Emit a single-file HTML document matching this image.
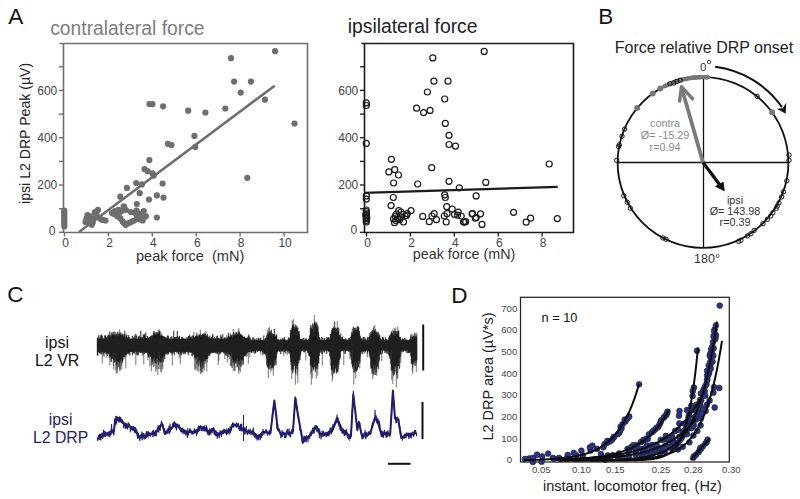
<!DOCTYPE html>
<html><head><meta charset="utf-8"><style>
html,body{margin:0;padding:0;background:#fff;width:800px;height:499px;overflow:hidden}
svg{display:block;font-family:"Liberation Sans", sans-serif}
</style></head><body>
<svg width="800" height="499" viewBox="0 0 800 499">
<rect width="800" height="499" fill="#fff"/>
<text x="8.2" y="23.6" font-size="22.5" fill="#111" text-anchor="start" >A</text>
<text x="50.2" y="35" font-size="19.3" fill="#7d7d7d" text-anchor="start" >contralateral force</text>
<path d="M59.5 43.5 H307.5 V232.5 H63.5 V43.5" fill="none" stroke="#6e6e6e" stroke-width="1.6"/>
<line x1="59" x2="63.5" y1="232.3" y2="232.3" stroke="#6e6e6e" stroke-width="1.4"/>
<line x1="59" x2="63.5" y1="208.7" y2="208.7" stroke="#6e6e6e" stroke-width="1.4"/>
<line x1="59" x2="63.5" y1="185.0" y2="185.0" stroke="#6e6e6e" stroke-width="1.4"/>
<line x1="59" x2="63.5" y1="161.4" y2="161.4" stroke="#6e6e6e" stroke-width="1.4"/>
<line x1="59" x2="63.5" y1="137.7" y2="137.7" stroke="#6e6e6e" stroke-width="1.4"/>
<line x1="59" x2="63.5" y1="114.1" y2="114.1" stroke="#6e6e6e" stroke-width="1.4"/>
<line x1="59" x2="63.5" y1="90.4" y2="90.4" stroke="#6e6e6e" stroke-width="1.4"/>
<line x1="59" x2="63.5" y1="66.8" y2="66.8" stroke="#6e6e6e" stroke-width="1.4"/>
<text x="55.4" y="234.5" font-size="12" fill="#444" text-anchor="end" >0</text>
<text x="57.3" y="189.3" font-size="12" fill="#444" text-anchor="end" >200</text>
<text x="57.3" y="142.00000000000003" font-size="12" fill="#444" text-anchor="end" >400</text>
<text x="57.3" y="94.7" font-size="12" fill="#444" text-anchor="end" >600</text>
<line x1="64.5" x2="64.5" y1="232.5" y2="236.5" stroke="#6e6e6e" stroke-width="1.4"/>
<text x="65.6" y="246.5" font-size="12" fill="#444" text-anchor="middle" >0</text>
<line x1="108.4" x2="108.4" y1="232.5" y2="236.5" stroke="#6e6e6e" stroke-width="1.4"/>
<text x="109.5" y="246.5" font-size="12" fill="#444" text-anchor="middle" >2</text>
<line x1="152.3" x2="152.3" y1="232.5" y2="236.5" stroke="#6e6e6e" stroke-width="1.4"/>
<text x="153.4" y="246.5" font-size="12" fill="#444" text-anchor="middle" >4</text>
<line x1="196.2" x2="196.2" y1="232.5" y2="236.5" stroke="#6e6e6e" stroke-width="1.4"/>
<text x="197.29999999999998" y="246.5" font-size="12" fill="#444" text-anchor="middle" >6</text>
<line x1="240.1" x2="240.1" y1="232.5" y2="236.5" stroke="#6e6e6e" stroke-width="1.4"/>
<text x="241.2" y="246.5" font-size="12" fill="#444" text-anchor="middle" >8</text>
<line x1="284.0" x2="284.0" y1="232.5" y2="236.5" stroke="#6e6e6e" stroke-width="1.4"/>
<text x="285.1" y="246.5" font-size="12" fill="#444" text-anchor="middle" >10</text>
<text x="136" y="260.5" font-size="14.55" fill="#333" text-anchor="start" >peak force&#160;&#160;(mN)</text>
<text transform="translate(30.4,133.4) rotate(-90)" font-size="14.1" fill="#222" text-anchor="middle">ipsi L2 DRP Peak (µV)</text>
<circle cx="275.1" cy="51.2" r="3.1" fill="#6e6e6e"/>
<circle cx="231" cy="58.2" r="3.1" fill="#6e6e6e"/>
<circle cx="234.1" cy="81.6" r="3.1" fill="#6e6e6e"/>
<circle cx="250.9" cy="81.6" r="3.1" fill="#6e6e6e"/>
<circle cx="240.7" cy="92.6" r="3.1" fill="#6e6e6e"/>
<circle cx="265" cy="99.7" r="3.1" fill="#6e6e6e"/>
<circle cx="294.5" cy="123.5" r="3.1" fill="#6e6e6e"/>
<circle cx="225.3" cy="108.5" r="3.1" fill="#6e6e6e"/>
<circle cx="205.4" cy="112.5" r="3.1" fill="#6e6e6e"/>
<circle cx="188.2" cy="110.7" r="3.1" fill="#6e6e6e"/>
<circle cx="149.4" cy="104.1" r="3.1" fill="#6e6e6e"/>
<circle cx="152.5" cy="104.1" r="3.1" fill="#6e6e6e"/>
<circle cx="163.1" cy="106.3" r="3.1" fill="#6e6e6e"/>
<circle cx="194.4" cy="135.9" r="3.1" fill="#6e6e6e"/>
<circle cx="195.3" cy="146.9" r="3.1" fill="#6e6e6e"/>
<circle cx="167.9" cy="143.8" r="3.1" fill="#6e6e6e"/>
<circle cx="171.5" cy="145.1" r="3.1" fill="#6e6e6e"/>
<circle cx="247.3" cy="177.8" r="3.1" fill="#6e6e6e"/>
<circle cx="149.4" cy="160.1" r="3.1" fill="#6e6e6e"/>
<circle cx="144.5" cy="169" r="3.1" fill="#6e6e6e"/>
<circle cx="147.6" cy="171.2" r="3.1" fill="#6e6e6e"/>
<circle cx="152.5" cy="173.4" r="3.1" fill="#6e6e6e"/>
<circle cx="153.8" cy="175.6" r="3.1" fill="#6e6e6e"/>
<circle cx="162.6" cy="183.5" r="3.1" fill="#6e6e6e"/>
<circle cx="136.2" cy="183.1" r="3.1" fill="#6e6e6e"/>
<circle cx="141.9" cy="184.4" r="3.1" fill="#6e6e6e"/>
<circle cx="126.9" cy="187.9" r="3.1" fill="#6e6e6e"/>
<circle cx="120.3" cy="196.7" r="3.1" fill="#6e6e6e"/>
<circle cx="139.7" cy="193.2" r="3.1" fill="#6e6e6e"/>
<circle cx="149" cy="199.5" r="3.1" fill="#6e6e6e"/>
<circle cx="156.9" cy="195.4" r="3.1" fill="#6e6e6e"/>
<circle cx="163.5" cy="197.6" r="3.1" fill="#6e6e6e"/>
<circle cx="126" cy="210" r="3.1" fill="#6e6e6e"/>
<circle cx="156.9" cy="217.5" r="3.1" fill="#6e6e6e"/>
<circle cx="86.4" cy="218.4" r="3.1" fill="#6e6e6e"/>
<circle cx="90.6" cy="216.3" r="3.1" fill="#6e6e6e"/>
<circle cx="92.8" cy="222.6" r="3.1" fill="#6e6e6e"/>
<circle cx="94.9" cy="212" r="3.1" fill="#6e6e6e"/>
<circle cx="98" cy="209.9" r="3.1" fill="#6e6e6e"/>
<circle cx="97" cy="216.3" r="3.1" fill="#6e6e6e"/>
<circle cx="101.3" cy="219.4" r="3.1" fill="#6e6e6e"/>
<circle cx="105.5" cy="220.5" r="3.1" fill="#6e6e6e"/>
<circle cx="88.5" cy="221.6" r="3.1" fill="#6e6e6e"/>
<circle cx="91.7" cy="224.8" r="3.1" fill="#6e6e6e"/>
<circle cx="87.5" cy="215" r="3.1" fill="#6e6e6e"/>
<circle cx="93" cy="219" r="3.1" fill="#6e6e6e"/>
<circle cx="96" cy="213" r="3.1" fill="#6e6e6e"/>
<circle cx="99.5" cy="218" r="3.1" fill="#6e6e6e"/>
<circle cx="103" cy="220" r="3.1" fill="#6e6e6e"/>
<circle cx="85.5" cy="222" r="3.1" fill="#6e6e6e"/>
<circle cx="90" cy="219.5" r="3.1" fill="#6e6e6e"/>
<circle cx="111.9" cy="213" r="3.1" fill="#6e6e6e"/>
<circle cx="115" cy="211" r="3.1" fill="#6e6e6e"/>
<circle cx="118.3" cy="209.9" r="3.1" fill="#6e6e6e"/>
<circle cx="121.4" cy="211" r="3.1" fill="#6e6e6e"/>
<circle cx="117.2" cy="216.3" r="3.1" fill="#6e6e6e"/>
<circle cx="120.4" cy="218.4" r="3.1" fill="#6e6e6e"/>
<circle cx="122.5" cy="221.6" r="3.1" fill="#6e6e6e"/>
<circle cx="125.7" cy="224.8" r="3.1" fill="#6e6e6e"/>
<circle cx="130" cy="222.6" r="3.1" fill="#6e6e6e"/>
<circle cx="134.2" cy="220.5" r="3.1" fill="#6e6e6e"/>
<circle cx="131" cy="212" r="3.1" fill="#6e6e6e"/>
<circle cx="135.3" cy="213" r="3.1" fill="#6e6e6e"/>
<circle cx="139.5" cy="214" r="3.1" fill="#6e6e6e"/>
<circle cx="143.8" cy="211" r="3.1" fill="#6e6e6e"/>
<circle cx="145.9" cy="216.3" r="3.1" fill="#6e6e6e"/>
<circle cx="139.5" cy="219.4" r="3.1" fill="#6e6e6e"/>
<circle cx="142.7" cy="220.5" r="3.1" fill="#6e6e6e"/>
<circle cx="123.6" cy="206.7" r="3.1" fill="#6e6e6e"/>
<circle cx="114" cy="214" r="3.1" fill="#6e6e6e"/>
<circle cx="119" cy="213.5" r="3.1" fill="#6e6e6e"/>
<circle cx="127.5" cy="223.5" r="3.1" fill="#6e6e6e"/>
<circle cx="132" cy="221.5" r="3.1" fill="#6e6e6e"/>
<circle cx="137" cy="217" r="3.1" fill="#6e6e6e"/>
<circle cx="141" cy="216.5" r="3.1" fill="#6e6e6e"/>
<circle cx="124" cy="223" r="3.1" fill="#6e6e6e"/>
<circle cx="136.5" cy="210.5" r="3.1" fill="#6e6e6e"/>
<circle cx="136.8" cy="204.1" r="3.1" fill="#6e6e6e"/>
<circle cx="124.1" cy="206.7" r="3.1" fill="#6e6e6e"/>
<circle cx="64.3" cy="210.5" r="3.1" fill="#6e6e6e"/>
<circle cx="64.3" cy="212.5" r="3.1" fill="#6e6e6e"/>
<circle cx="64.3" cy="214.5" r="3.1" fill="#6e6e6e"/>
<circle cx="64.3" cy="216.5" r="3.1" fill="#6e6e6e"/>
<circle cx="64.3" cy="218.5" r="3.1" fill="#6e6e6e"/>
<circle cx="64.3" cy="220.5" r="3.1" fill="#6e6e6e"/>
<circle cx="64.3" cy="222.5" r="3.1" fill="#6e6e6e"/>
<circle cx="64.3" cy="224.5" r="3.1" fill="#6e6e6e"/>
<circle cx="64.3" cy="226.5" r="3.1" fill="#6e6e6e"/>
<line x1="79" y1="232" x2="274.7" y2="85.7" stroke="#6e6e6e" stroke-width="2.6"/>
<text x="347.8" y="33.2" font-size="19.3" fill="#222" text-anchor="start" >ipsilateral force</text>
<path d="M361.5 43.5 H573.5 V232.5 H364.5 V43.5" fill="none" stroke="#1a1a1a" stroke-width="1.6"/>
<line x1="360" x2="364.5" y1="232.3" y2="232.3" stroke="#1a1a1a" stroke-width="1.3"/>
<line x1="360" x2="364.5" y1="208.7" y2="208.7" stroke="#1a1a1a" stroke-width="1.3"/>
<line x1="360" x2="364.5" y1="185.0" y2="185.0" stroke="#1a1a1a" stroke-width="1.3"/>
<line x1="360" x2="364.5" y1="161.4" y2="161.4" stroke="#1a1a1a" stroke-width="1.3"/>
<line x1="360" x2="364.5" y1="137.7" y2="137.7" stroke="#1a1a1a" stroke-width="1.3"/>
<line x1="360" x2="364.5" y1="114.1" y2="114.1" stroke="#1a1a1a" stroke-width="1.3"/>
<line x1="360" x2="364.5" y1="90.4" y2="90.4" stroke="#1a1a1a" stroke-width="1.3"/>
<line x1="360" x2="364.5" y1="66.8" y2="66.8" stroke="#1a1a1a" stroke-width="1.3"/>
<text x="357.1" y="233.8" font-size="12" fill="#444" text-anchor="end" >0</text>
<text x="358.3" y="189.3" font-size="12" fill="#444" text-anchor="end" >200</text>
<text x="358.3" y="142.00000000000003" font-size="12" fill="#444" text-anchor="end" >400</text>
<text x="358.3" y="94.7" font-size="12" fill="#444" text-anchor="end" >600</text>
<line x1="366.5" x2="366.5" y1="232.5" y2="236.5" stroke="#1a1a1a" stroke-width="1.3"/>
<text x="367.6" y="246.5" font-size="12" fill="#444" text-anchor="middle" >0</text>
<line x1="410.4" x2="410.4" y1="232.5" y2="236.5" stroke="#1a1a1a" stroke-width="1.3"/>
<text x="411.5" y="246.5" font-size="12" fill="#444" text-anchor="middle" >2</text>
<line x1="454.3" x2="454.3" y1="232.5" y2="236.5" stroke="#1a1a1a" stroke-width="1.3"/>
<text x="455.40000000000003" y="246.5" font-size="12" fill="#444" text-anchor="middle" >4</text>
<line x1="498.2" x2="498.2" y1="232.5" y2="236.5" stroke="#1a1a1a" stroke-width="1.3"/>
<text x="499.3" y="246.5" font-size="12" fill="#444" text-anchor="middle" >6</text>
<line x1="542.1" x2="542.1" y1="232.5" y2="236.5" stroke="#1a1a1a" stroke-width="1.3"/>
<text x="543.2" y="246.5" font-size="12" fill="#444" text-anchor="middle" >8</text>
<text x="412.8" y="259.4" font-size="14.3" fill="#333" text-anchor="start" >peak force (mN)</text>
<circle cx="432.8" cy="57.9" r="3.0" fill="none" stroke="#1a1a1a" stroke-width="1.2"/>
<circle cx="484.2" cy="51.4" r="3.0" fill="none" stroke="#1a1a1a" stroke-width="1.2"/>
<circle cx="433.9" cy="81.2" r="3.0" fill="none" stroke="#1a1a1a" stroke-width="1.2"/>
<circle cx="448" cy="81.2" r="3.0" fill="none" stroke="#1a1a1a" stroke-width="1.2"/>
<circle cx="427.4" cy="92" r="3.0" fill="none" stroke="#1a1a1a" stroke-width="1.2"/>
<circle cx="444.7" cy="99" r="3.0" fill="none" stroke="#1a1a1a" stroke-width="1.2"/>
<circle cx="416.6" cy="108.2" r="3.0" fill="none" stroke="#1a1a1a" stroke-width="1.2"/>
<circle cx="423.6" cy="112.6" r="3.0" fill="none" stroke="#1a1a1a" stroke-width="1.2"/>
<circle cx="430.1" cy="110.4" r="3.0" fill="none" stroke="#1a1a1a" stroke-width="1.2"/>
<circle cx="366.3" cy="102.8" r="3.0" fill="none" stroke="#1a1a1a" stroke-width="1.2"/>
<circle cx="366.3" cy="105.5" r="3.0" fill="none" stroke="#1a1a1a" stroke-width="1.2"/>
<circle cx="445.3" cy="123.4" r="3.0" fill="none" stroke="#1a1a1a" stroke-width="1.2"/>
<circle cx="449" cy="135.3" r="3.0" fill="none" stroke="#1a1a1a" stroke-width="1.2"/>
<circle cx="455.5" cy="146.1" r="3.0" fill="none" stroke="#1a1a1a" stroke-width="1.2"/>
<circle cx="449" cy="144.5" r="3.0" fill="none" stroke="#1a1a1a" stroke-width="1.2"/>
<circle cx="366.3" cy="143.4" r="3.0" fill="none" stroke="#1a1a1a" stroke-width="1.2"/>
<circle cx="391.4" cy="159.3" r="3.0" fill="none" stroke="#1a1a1a" stroke-width="1.2"/>
<circle cx="388.8" cy="171.9" r="3.0" fill="none" stroke="#1a1a1a" stroke-width="1.2"/>
<circle cx="394.7" cy="169.7" r="3.0" fill="none" stroke="#1a1a1a" stroke-width="1.2"/>
<circle cx="398.5" cy="175" r="3.0" fill="none" stroke="#1a1a1a" stroke-width="1.2"/>
<circle cx="393.6" cy="183" r="3.0" fill="none" stroke="#1a1a1a" stroke-width="1.2"/>
<circle cx="431.7" cy="167.7" r="3.0" fill="none" stroke="#1a1a1a" stroke-width="1.2"/>
<circle cx="417.7" cy="184" r="3.0" fill="none" stroke="#1a1a1a" stroke-width="1.2"/>
<circle cx="449" cy="181.3" r="3.0" fill="none" stroke="#1a1a1a" stroke-width="1.2"/>
<circle cx="459.3" cy="187.8" r="3.0" fill="none" stroke="#1a1a1a" stroke-width="1.2"/>
<circle cx="485.8" cy="182.4" r="3.0" fill="none" stroke="#1a1a1a" stroke-width="1.2"/>
<circle cx="549.2" cy="164" r="3.0" fill="none" stroke="#1a1a1a" stroke-width="1.2"/>
<circle cx="393.3" cy="197.5" r="3.0" fill="none" stroke="#1a1a1a" stroke-width="1.2"/>
<circle cx="391.1" cy="205.6" r="3.0" fill="none" stroke="#1a1a1a" stroke-width="1.2"/>
<circle cx="366.3" cy="195.9" r="3.0" fill="none" stroke="#1a1a1a" stroke-width="1.2"/>
<circle cx="366.3" cy="199.1" r="3.0" fill="none" stroke="#1a1a1a" stroke-width="1.2"/>
<circle cx="444.7" cy="194.8" r="3.0" fill="none" stroke="#1a1a1a" stroke-width="1.2"/>
<circle cx="445.3" cy="197.5" r="3.0" fill="none" stroke="#1a1a1a" stroke-width="1.2"/>
<circle cx="476.1" cy="195.9" r="3.0" fill="none" stroke="#1a1a1a" stroke-width="1.2"/>
<circle cx="557.3" cy="218.6" r="3.0" fill="none" stroke="#1a1a1a" stroke-width="1.2"/>
<circle cx="366.3" cy="210" r="3.0" fill="none" stroke="#1a1a1a" stroke-width="1.2"/>
<circle cx="366.3" cy="211.5" r="3.0" fill="none" stroke="#1a1a1a" stroke-width="1.2"/>
<circle cx="366.3" cy="213" r="3.0" fill="none" stroke="#1a1a1a" stroke-width="1.2"/>
<circle cx="366.3" cy="214.5" r="3.0" fill="none" stroke="#1a1a1a" stroke-width="1.2"/>
<circle cx="366.3" cy="216" r="3.0" fill="none" stroke="#1a1a1a" stroke-width="1.2"/>
<circle cx="366.3" cy="217.5" r="3.0" fill="none" stroke="#1a1a1a" stroke-width="1.2"/>
<circle cx="366.3" cy="219" r="3.0" fill="none" stroke="#1a1a1a" stroke-width="1.2"/>
<circle cx="366.3" cy="220.5" r="3.0" fill="none" stroke="#1a1a1a" stroke-width="1.2"/>
<circle cx="366.3" cy="222" r="3.0" fill="none" stroke="#1a1a1a" stroke-width="1.2"/>
<circle cx="365.8" cy="215" r="3.0" fill="none" stroke="#1a1a1a" stroke-width="1.2"/>
<circle cx="366.8" cy="218" r="3.0" fill="none" stroke="#1a1a1a" stroke-width="1.2"/>
<circle cx="396.5" cy="214" r="3.0" fill="none" stroke="#1a1a1a" stroke-width="1.2"/>
<circle cx="398" cy="219" r="3.0" fill="none" stroke="#1a1a1a" stroke-width="1.2"/>
<circle cx="400.5" cy="217" r="3.0" fill="none" stroke="#1a1a1a" stroke-width="1.2"/>
<circle cx="396" cy="220.5" r="3.0" fill="none" stroke="#1a1a1a" stroke-width="1.2"/>
<circle cx="401" cy="212" r="3.0" fill="none" stroke="#1a1a1a" stroke-width="1.2"/>
<circle cx="393.5" cy="219" r="3.0" fill="none" stroke="#1a1a1a" stroke-width="1.2"/>
<circle cx="406.5" cy="215.5" r="3.0" fill="none" stroke="#1a1a1a" stroke-width="1.2"/>
<circle cx="398.7" cy="210.7" r="3.0" fill="none" stroke="#1a1a1a" stroke-width="1.2"/>
<circle cx="395.2" cy="216" r="3.0" fill="none" stroke="#1a1a1a" stroke-width="1.2"/>
<circle cx="397.5" cy="217.5" r="3.0" fill="none" stroke="#1a1a1a" stroke-width="1.2"/>
<circle cx="394.5" cy="222.7" r="3.0" fill="none" stroke="#1a1a1a" stroke-width="1.2"/>
<circle cx="399.7" cy="219.7" r="3.0" fill="none" stroke="#1a1a1a" stroke-width="1.2"/>
<circle cx="403.5" cy="222" r="3.0" fill="none" stroke="#1a1a1a" stroke-width="1.2"/>
<circle cx="405" cy="216" r="3.0" fill="none" stroke="#1a1a1a" stroke-width="1.2"/>
<circle cx="407.2" cy="213.7" r="3.0" fill="none" stroke="#1a1a1a" stroke-width="1.2"/>
<circle cx="411" cy="210.7" r="3.0" fill="none" stroke="#1a1a1a" stroke-width="1.2"/>
<circle cx="402" cy="214.5" r="3.0" fill="none" stroke="#1a1a1a" stroke-width="1.2"/>
<circle cx="422.7" cy="216.4" r="3.0" fill="none" stroke="#1a1a1a" stroke-width="1.2"/>
<circle cx="429.3" cy="221.7" r="3.0" fill="none" stroke="#1a1a1a" stroke-width="1.2"/>
<circle cx="432" cy="216" r="3.0" fill="none" stroke="#1a1a1a" stroke-width="1.2"/>
<circle cx="434.2" cy="213.7" r="3.0" fill="none" stroke="#1a1a1a" stroke-width="1.2"/>
<circle cx="436.5" cy="219.7" r="3.0" fill="none" stroke="#1a1a1a" stroke-width="1.2"/>
<circle cx="446.7" cy="206.7" r="3.0" fill="none" stroke="#1a1a1a" stroke-width="1.2"/>
<circle cx="444.3" cy="216" r="3.0" fill="none" stroke="#1a1a1a" stroke-width="1.2"/>
<circle cx="447" cy="213.7" r="3.0" fill="none" stroke="#1a1a1a" stroke-width="1.2"/>
<circle cx="446.2" cy="222" r="3.0" fill="none" stroke="#1a1a1a" stroke-width="1.2"/>
<circle cx="452.2" cy="209.2" r="3.0" fill="none" stroke="#1a1a1a" stroke-width="1.2"/>
<circle cx="458.2" cy="212.2" r="3.0" fill="none" stroke="#1a1a1a" stroke-width="1.2"/>
<circle cx="454.5" cy="214.5" r="3.0" fill="none" stroke="#1a1a1a" stroke-width="1.2"/>
<circle cx="457.5" cy="215.2" r="3.0" fill="none" stroke="#1a1a1a" stroke-width="1.2"/>
<circle cx="461.2" cy="216" r="3.0" fill="none" stroke="#1a1a1a" stroke-width="1.2"/>
<circle cx="463.5" cy="222" r="3.0" fill="none" stroke="#1a1a1a" stroke-width="1.2"/>
<circle cx="465.7" cy="221.7" r="3.0" fill="none" stroke="#1a1a1a" stroke-width="1.2"/>
<circle cx="472.5" cy="213.7" r="3.0" fill="none" stroke="#1a1a1a" stroke-width="1.2"/>
<circle cx="476.2" cy="217.5" r="3.0" fill="none" stroke="#1a1a1a" stroke-width="1.2"/>
<circle cx="472.1" cy="213.8" r="3.0" fill="none" stroke="#1a1a1a" stroke-width="1.2"/>
<circle cx="480.5" cy="213.8" r="3.0" fill="none" stroke="#1a1a1a" stroke-width="1.2"/>
<circle cx="475.4" cy="218.2" r="3.0" fill="none" stroke="#1a1a1a" stroke-width="1.2"/>
<circle cx="464.4" cy="222.2" r="3.0" fill="none" stroke="#1a1a1a" stroke-width="1.2"/>
<circle cx="482" cy="224.4" r="3.0" fill="none" stroke="#1a1a1a" stroke-width="1.2"/>
<circle cx="526.2" cy="222.2" r="3.0" fill="none" stroke="#1a1a1a" stroke-width="1.2"/>
<circle cx="530.6" cy="218.2" r="3.0" fill="none" stroke="#1a1a1a" stroke-width="1.2"/>
<circle cx="513.6" cy="212.3" r="3.0" fill="none" stroke="#1a1a1a" stroke-width="1.2"/>
<line x1="364" y1="192.9" x2="557.7" y2="186.9" stroke="#1a1a1a" stroke-width="2.2"/>
<text x="598.2" y="23.8" font-size="22.5" fill="#111" text-anchor="start" >B</text>
<text x="704" y="52.8" font-size="16" fill="#222" text-anchor="middle" >Force relative DRP onset</text>
<circle cx="703" cy="162.5" r="85.4" fill="none" stroke="#111" stroke-width="1.8"/>
<line x1="703.5" y1="77.1" x2="703.5" y2="247.9" stroke="#111" stroke-width="1.3"/>
<line x1="617.6" y1="162.5" x2="788.4" y2="162.5" stroke="#111" stroke-width="1.4"/>
<text x="700" y="70.8" font-size="11.5" fill="#333" text-anchor="start" >0</text>
<circle cx="709.1" cy="62.1" r="1.75" fill="none" stroke="#333" stroke-width="0.9"/>
<text x="707" y="263" font-size="12.5" fill="#333" text-anchor="middle" >180°</text>
<path d="M715.1 66.8 A96.5 96.5 0 0 1 782.0 107.1" fill="none" stroke="#111" stroke-width="2"/>
<path d="M785.7 113.8 L776.7 108.8 L782.7 108.3 L786.2 102.8 Z" fill="#111"/>
<circle cx="664.2" cy="86.4" r="2.06" fill="#777"/>
<circle cx="664.9" cy="86.1" r="1.98" fill="#777"/>
<circle cx="665.6" cy="85.7" r="2.23" fill="#777"/>
<circle cx="666.2" cy="85.4" r="1.94" fill="#777"/>
<circle cx="666.9" cy="85.1" r="2.17" fill="#777"/>
<circle cx="667.6" cy="84.8" r="2.08" fill="#777"/>
<circle cx="668.3" cy="84.5" r="1.93" fill="#777"/>
<circle cx="668.9" cy="84.2" r="2.15" fill="#777"/>
<circle cx="669.6" cy="83.9" r="1.92" fill="#777"/>
<circle cx="670.3" cy="83.6" r="2.12" fill="#777"/>
<circle cx="671.0" cy="83.3" r="1.93" fill="#777"/>
<circle cx="671.7" cy="83.0" r="1.95" fill="#777"/>
<circle cx="672.4" cy="82.8" r="2.11" fill="#777"/>
<circle cx="673.1" cy="82.5" r="2.31" fill="#777"/>
<circle cx="673.8" cy="82.3" r="1.96" fill="#777"/>
<circle cx="674.5" cy="82.0" r="2.01" fill="#777"/>
<circle cx="675.2" cy="81.8" r="2.21" fill="#777"/>
<circle cx="675.9" cy="81.5" r="2.37" fill="#777"/>
<circle cx="676.6" cy="81.3" r="2.19" fill="#777"/>
<circle cx="677.3" cy="81.1" r="2.10" fill="#777"/>
<circle cx="678.0" cy="80.8" r="2.39" fill="#777"/>
<circle cx="678.7" cy="80.6" r="1.92" fill="#777"/>
<circle cx="679.5" cy="80.4" r="2.33" fill="#777"/>
<circle cx="680.2" cy="80.2" r="2.04" fill="#777"/>
<circle cx="680.9" cy="80.0" r="1.97" fill="#777"/>
<circle cx="681.6" cy="79.8" r="1.96" fill="#777"/>
<circle cx="682.3" cy="79.6" r="2.05" fill="#777"/>
<circle cx="683.1" cy="79.5" r="2.31" fill="#777"/>
<circle cx="683.8" cy="79.3" r="1.99" fill="#777"/>
<circle cx="684.5" cy="79.1" r="2.19" fill="#777"/>
<circle cx="685.2" cy="79.0" r="2.22" fill="#777"/>
<circle cx="686.0" cy="78.8" r="2.09" fill="#777"/>
<circle cx="686.7" cy="78.7" r="2.17" fill="#777"/>
<circle cx="687.4" cy="78.5" r="1.93" fill="#777"/>
<circle cx="688.2" cy="78.4" r="1.93" fill="#777"/>
<circle cx="688.9" cy="78.3" r="2.00" fill="#777"/>
<circle cx="689.6" cy="78.2" r="2.24" fill="#777"/>
<circle cx="690.4" cy="78.0" r="2.11" fill="#777"/>
<circle cx="691.1" cy="77.9" r="2.06" fill="#777"/>
<circle cx="691.9" cy="77.8" r="2.19" fill="#777"/>
<circle cx="692.6" cy="77.7" r="2.13" fill="#777"/>
<circle cx="693.3" cy="77.6" r="2.05" fill="#777"/>
<circle cx="694.1" cy="77.6" r="2.30" fill="#777"/>
<circle cx="694.8" cy="77.5" r="2.25" fill="#777"/>
<circle cx="695.6" cy="77.4" r="2.02" fill="#777"/>
<circle cx="696.3" cy="77.4" r="2.19" fill="#777"/>
<circle cx="697.0" cy="77.3" r="2.16" fill="#777"/>
<circle cx="697.8" cy="77.3" r="2.34" fill="#777"/>
<circle cx="698.5" cy="77.2" r="2.26" fill="#777"/>
<circle cx="699.3" cy="77.2" r="2.04" fill="#777"/>
<circle cx="700.0" cy="77.2" r="2.39" fill="#777"/>
<circle cx="700.8" cy="77.1" r="1.96" fill="#777"/>
<circle cx="701.5" cy="77.1" r="2.11" fill="#777"/>
<circle cx="702.3" cy="77.1" r="2.28" fill="#777"/>
<circle cx="703.0" cy="77.1" r="1.98" fill="#777"/>
<circle cx="703.7" cy="77.1" r="2.14" fill="#777"/>
<circle cx="704.5" cy="77.1" r="1.92" fill="#777"/>
<circle cx="705.2" cy="77.1" r="2.23" fill="#777"/>
<circle cx="706.0" cy="77.2" r="2.28" fill="#777"/>
<circle cx="706.7" cy="77.2" r="2.19" fill="#777"/>
<circle cx="707.5" cy="77.2" r="2.34" fill="#777"/>
<circle cx="637.2" cy="108.1" r="3" fill="#777"/>
<circle cx="652.7" cy="93.5" r="3" fill="#777"/>
<circle cx="660.3" cy="88.5" r="3" fill="#777"/>
<circle cx="772.1" cy="112.3" r="3" fill="#777"/>
<circle cx="624.6" cy="129.1" r="2.2" fill="none" stroke="#151515" stroke-width="1.0"/>
<circle cx="622" cy="136.2" r="2.2" fill="none" stroke="#151515" stroke-width="1.0"/>
<circle cx="619.3" cy="144.8" r="2.2" fill="none" stroke="#151515" stroke-width="1.0"/>
<circle cx="618.6" cy="146.6" r="2.2" fill="none" stroke="#151515" stroke-width="1.0"/>
<circle cx="616.7" cy="160.4" r="2.2" fill="none" stroke="#151515" stroke-width="1.0"/>
<circle cx="623.8" cy="195.7" r="2.2" fill="none" stroke="#151515" stroke-width="1.0"/>
<circle cx="627.2" cy="202.2" r="2.2" fill="none" stroke="#151515" stroke-width="1.0"/>
<circle cx="630.3" cy="208.2" r="2.2" fill="none" stroke="#151515" stroke-width="1.0"/>
<circle cx="662.9" cy="237.9" r="2.2" fill="none" stroke="#151515" stroke-width="1.0"/>
<circle cx="666" cy="239.2" r="2.2" fill="none" stroke="#151515" stroke-width="1.0"/>
<circle cx="757.1" cy="96.4" r="2.2" fill="none" stroke="#151515" stroke-width="1.0"/>
<circle cx="670" cy="83.75" r="2.2" fill="none" stroke="#151515" stroke-width="1.0"/>
<circle cx="673.75" cy="83" r="2.2" fill="none" stroke="#151515" stroke-width="1.0"/>
<circle cx="676.75" cy="81.5" r="2.2" fill="none" stroke="#151515" stroke-width="1.0"/>
<circle cx="680.2" cy="80.2" r="2.2" fill="none" stroke="#151515" stroke-width="1.0"/>
<circle cx="789" cy="155" r="2.2" fill="none" stroke="#151515" stroke-width="1.0"/>
<circle cx="789" cy="160.3" r="2.2" fill="none" stroke="#151515" stroke-width="1.0"/>
<circle cx="786.8" cy="180.8" r="2.2" fill="none" stroke="#151515" stroke-width="1.0"/>
<circle cx="783.5" cy="191.8" r="2.2" fill="none" stroke="#151515" stroke-width="1.0"/>
<circle cx="781.7" cy="196.9" r="2.2" fill="none" stroke="#151515" stroke-width="1.0"/>
<circle cx="779" cy="202.8" r="2.2" fill="none" stroke="#151515" stroke-width="1.0"/>
<circle cx="777.3" cy="206.1" r="2.2" fill="none" stroke="#151515" stroke-width="1.0"/>
<circle cx="776.2" cy="208.3" r="2.2" fill="none" stroke="#151515" stroke-width="1.0"/>
<circle cx="772.9" cy="212.7" r="2.2" fill="none" stroke="#151515" stroke-width="1.0"/>
<circle cx="770.7" cy="216" r="2.2" fill="none" stroke="#151515" stroke-width="1.0"/>
<circle cx="767.4" cy="219.3" r="2.2" fill="none" stroke="#151515" stroke-width="1.0"/>
<circle cx="763" cy="223.7" r="2.2" fill="none" stroke="#151515" stroke-width="1.0"/>
<circle cx="754.2" cy="230.4" r="2.2" fill="none" stroke="#151515" stroke-width="1.0"/>
<circle cx="750.9" cy="233.7" r="2.2" fill="none" stroke="#151515" stroke-width="1.0"/>
<circle cx="747.5" cy="235.9" r="2.2" fill="none" stroke="#151515" stroke-width="1.0"/>
<circle cx="740.9" cy="240.3" r="2.2" fill="none" stroke="#151515" stroke-width="1.0"/>
<circle cx="738.7" cy="241.4" r="2.2" fill="none" stroke="#151515" stroke-width="1.0"/>
<line x1="703" y1="162.5" x2="681.6" y2="87.5" stroke="#7a7a7a" stroke-width="3.8"/>
<path d="M679.6 101 L681.5 86.6 L692.6 98.8" fill="none" stroke="#7a7a7a" stroke-width="3.4" stroke-linejoin="round" stroke-linecap="round"/>
<line x1="703" y1="162.5" x2="720.5" y2="185.8" stroke="#111" stroke-width="3.4"/>
<path d="M724.2 190.6 L715.6 186.4 L719.8 184.6 L723.1 182.2 Z" fill="#111" stroke="#111" stroke-width="1"/>
<text x="665" y="127.4" font-size="10.8" fill="#8a8a8a" text-anchor="middle" >contra</text>
<text x="665" y="139" font-size="10.8" fill="#8a8a8a" text-anchor="middle" >Ø= -15.29</text>
<text x="665" y="150.8" font-size="10.8" fill="#8a8a8a" text-anchor="middle" >r=0.94</text>
<text x="735" y="204.3" font-size="10.8" fill="#333" text-anchor="middle" >ipsi</text>
<text x="735" y="215.2" font-size="10.8" fill="#333" text-anchor="middle" >Ø= 143.98</text>
<text x="735" y="226" font-size="10.8" fill="#333" text-anchor="middle" >r=0.39</text>
<text x="7.2" y="302.2" font-size="22.5" fill="#111" text-anchor="start" >C</text>
<text x="57" y="348" font-size="16" fill="#111" text-anchor="middle" >ipsi</text>
<text x="57.2" y="366" font-size="16" fill="#111" text-anchor="middle" >L2 VR</text>
<text x="60.6" y="425" font-size="15.8" fill="#26225f" text-anchor="middle" >ipsi</text>
<text x="60.6" y="443" font-size="15.8" fill="#26225f" text-anchor="middle" >L2 DRP</text>
<path d="M97.30 338.1V355.4M97.80 337.6V355.5M98.30 338.7V352.1M98.80 337.8V352.0M98.80 338.8V335.1M99.30 338.7V353.2M99.80 338.8V353.3M100.30 336.5V353.1M100.80 338.8V353.7M101.30 336.3V354.6M101.30 338.8V334.5M101.80 338.6V351.9M102.30 335.5V351.9M102.80 338.1V351.9M103.30 338.7V354.7M103.80 338.6V353.0M104.30 338.2V353.1M104.80 335.3V352.3M105.30 335.3V352.0M105.80 336.5V353.5M106.30 337.3V353.8M106.80 338.5V352.7M107.30 337.8V356.0M107.80 335.5V353.4M108.30 334.6V353.1M108.80 336.5V354.4M109.30 337.7V357.7M109.80 334.5V356.5M109.80 338.8V331.4M110.30 335.7V357.1M110.80 336.4V357.2M111.30 337.1V362.2M111.80 332.5V358.5M112.30 335.0V358.7M112.80 334.8V357.4M112.80 338.8V334.5M113.30 334.5V360.1M113.80 331.7V363.2M114.30 335.1V362.4M114.30 338.8V336.9M114.80 334.3V360.4M115.30 335.7V358.1M115.80 334.1V362.0M116.30 335.4V366.0M116.80 333.3V362.9M117.30 335.9V361.2M117.80 331.9V360.8M118.30 333.8V362.1M118.80 335.0V361.9M119.30 333.3V362.5M119.80 334.3V362.9M120.30 333.8V362.1M120.80 334.2V360.4M121.30 335.0V359.1M121.80 335.4V361.1M122.30 335.1V362.7M122.80 333.6V360.8M123.30 335.4V357.5M123.80 337.0V357.0M124.30 334.1V356.9M124.80 336.8V355.3M124.80 338.8V331.2M125.30 337.3V355.1M125.80 337.3V357.5M126.30 335.3V355.4M126.80 336.6V354.2M127.30 338.2V353.5M127.80 337.4V352.7M128.30 336.6V354.3M128.30 338.8V335.1M128.80 338.5V352.5M129.30 338.4V353.5M129.80 337.2V355.5M130.30 338.7V352.0M130.80 338.8V352.0M131.30 338.8V351.9M131.80 338.8V351.9M132.30 335.8V355.3M132.80 338.8V352.2M133.30 338.8V352.6M133.80 338.2V353.6M133.80 338.8V337.2M134.30 338.0V353.5M134.80 335.3V351.8M135.30 338.3V351.9M135.80 338.8V351.8M135.80 338.8V333.8M136.30 338.7V354.6M136.80 335.5V352.2M137.30 338.8V355.5M137.80 338.8V352.3M138.30 336.7V355.1M138.80 338.3V351.8M139.30 335.7V351.8M139.80 338.4V352.6M140.30 337.1V352.9M140.80 338.8V352.8M140.80 338.8V331.0M141.30 338.4V351.9M141.80 336.8V353.2M142.30 338.6V352.7M142.80 337.4V355.6M143.30 338.8V353.2M143.30 338.8V334.4M143.80 337.4V351.9M144.30 335.5V354.0M144.30 338.8V333.9M144.80 338.0V352.1M144.80 338.8V335.6M145.30 337.6V353.1M145.80 338.4V352.3M145.80 338.8V332.4M146.30 338.6V352.4M146.80 337.9V352.9M147.30 336.0V353.6M147.80 337.7V354.0M148.30 337.9V356.7M148.80 337.9V357.5M149.30 336.7V354.7M149.80 336.7V356.4M150.30 337.8V356.4M150.80 335.8V356.8M151.30 335.4V359.1M151.80 336.1V360.0M152.30 336.3V359.3M152.80 335.2V360.6M153.30 333.1V358.2M153.80 331.1V358.0M154.30 335.2V361.5M154.80 334.9V357.4M154.80 338.8V331.7M155.30 333.5V362.6M155.80 335.6V363.7M156.30 333.8V363.9M156.80 333.5V358.2M156.80 338.8V332.3M157.30 334.2V358.8M157.80 332.2V362.2M158.30 334.0V365.4M158.80 332.5V359.9M159.30 331.0V360.7M159.30 338.8V332.7M159.80 331.4V362.0M160.30 335.8V361.7M160.80 335.1V362.6M161.30 335.3V362.8M161.30 338.8V335.4M161.80 336.0V358.5M162.30 335.6V362.2M162.80 336.0V361.4M163.30 336.5V356.5M163.80 336.1V357.1M164.30 336.9V355.7M164.80 336.9V359.2M165.30 338.2V354.6M165.80 337.5V353.3M166.30 338.3V354.0M166.80 337.9V353.2M167.30 338.5V352.7M167.80 335.6V354.8M168.30 335.7V354.2M168.80 338.7V352.0M169.30 338.5V352.5M169.80 338.8V351.9M170.30 338.8V351.9M170.80 337.2V353.0M171.30 338.6V353.2M171.80 336.0V351.8M172.30 338.8V353.7M172.80 338.5V353.9M173.30 338.7V351.8M173.80 338.4V352.5M173.80 338.8V330.7M174.30 338.8V355.4M174.30 338.8V337.1M174.80 337.2V352.0M175.30 337.2V351.8M175.80 338.8V351.9M176.30 336.6V351.8M176.80 338.6V353.2M177.30 338.7V351.8M177.30 338.8V331.1M177.80 336.6V351.8M178.30 338.7V354.4M178.80 337.4V353.9M179.30 336.3V352.1M179.30 338.8V335.9M179.80 338.8V351.8M180.30 338.8V355.5M180.80 338.8V353.3M181.30 338.8V355.3M181.80 336.8V352.5M182.30 337.4V351.8M182.80 338.8V353.2M183.30 338.7V351.9M183.80 337.7V354.4M184.30 338.8V353.2M184.80 338.8V352.1M185.30 338.8V354.3M185.80 338.7V352.1M186.30 338.8V352.2M186.80 337.3V351.8M187.30 338.5V351.8M187.80 338.4V352.8M188.30 336.2V355.2M188.80 335.9V351.8M189.30 336.2V352.2M189.80 338.5V352.2M189.80 338.8V334.5M190.30 338.6V353.1M190.80 337.1V352.2M191.30 336.4V352.6M191.80 338.5V352.5M192.30 338.4V356.0M192.80 335.4V353.5M193.30 338.2V354.1M193.30 338.8V335.6M193.80 335.3V355.0M194.30 337.4V357.9M194.80 337.6V357.2M195.30 336.1V357.5M195.80 336.4V360.1M196.30 334.6V358.1M196.80 335.7V358.3M197.30 337.0V363.8M197.80 335.5V357.2M198.30 335.6V362.3M198.80 336.2V364.6M199.30 334.8V360.4M199.80 334.3V360.8M200.30 333.4V367.1M200.80 336.5V367.6M201.30 336.8V364.6M201.30 338.8V335.7M201.80 335.0V361.2M202.30 334.3V364.9M202.80 334.0V364.7M203.30 335.0V362.3M203.80 333.2V364.1M204.30 333.9V359.5M204.80 335.6V361.0M205.30 333.1V359.1M205.80 335.2V361.3M206.30 336.0V359.0M206.80 335.6V359.3M207.30 333.9V358.9M207.80 336.1V358.7M208.30 337.4V355.4M208.80 337.1V355.7M209.30 338.0V354.0M209.80 335.5V356.2M210.30 338.4V353.4M210.80 338.4V353.2M211.30 337.0V353.2M211.80 338.7V352.4M212.30 336.8V352.2M212.80 335.5V353.2M212.80 338.8V334.0M213.30 338.6V352.9M213.80 338.7V352.5M214.30 338.8V352.4M214.80 336.8V351.9M215.30 338.6V353.2M215.80 338.2V353.1M216.30 338.8V351.8M216.80 336.3V353.4M217.30 335.5V354.2M217.80 338.8V353.1M218.30 337.9V351.8M218.80 338.6V352.1M219.30 338.8V352.8M219.80 338.5V354.6M220.30 338.5V352.9M220.80 338.6V353.6M220.80 338.8V334.7M221.30 336.6V351.9M221.80 338.7V351.8M222.30 338.6V352.1M222.80 338.7V351.8M222.80 338.8V334.1M223.30 338.8V353.4M223.80 338.8V351.8M224.30 337.4V352.7M224.80 338.0V353.7M225.30 338.8V355.3M225.80 337.4V351.9M226.30 338.7V354.3M226.80 338.2V355.9M227.30 337.1V352.4M227.80 338.2V355.2M228.30 336.0V353.2M228.30 338.8V332.8M228.80 338.1V354.0M229.30 336.2V354.9M229.80 337.6V354.1M230.30 336.9V356.2M230.30 338.8V333.6M230.80 337.4V355.9M231.30 334.9V357.0M231.80 335.6V358.3M231.80 338.8V336.4M232.30 337.4V359.9M232.80 334.7V359.7M233.30 332.0V363.8M233.80 335.6V361.6M234.30 335.2V361.6M234.80 334.1V364.2M235.30 335.6V363.4M235.80 334.0V360.8M236.30 334.9V362.4M236.30 338.8V332.3M236.80 334.9V361.3M236.80 338.8V333.1M237.30 334.9V358.4M237.80 333.9V366.6M238.30 332.4V363.5M238.80 331.5V364.0M239.30 335.6V361.3M239.30 338.8V331.6M239.80 335.5V361.7M240.30 335.0V360.3M240.30 338.8V334.0M240.80 333.8V359.2M241.30 334.6V363.3M241.80 335.1V360.5M242.30 335.5V360.1M242.80 335.9V360.9M243.30 336.8V360.0M243.80 336.7V357.2M244.30 337.2V356.1M244.80 336.6V355.7M245.30 338.0V356.0M245.80 338.4V354.5M246.30 338.1V353.2M246.80 337.4V356.6M247.30 338.0V352.5M247.80 337.3V353.3M248.30 336.3V352.6M248.80 337.9V352.0M248.80 338.8V334.4M249.30 338.7V352.0M249.80 336.5V352.2M250.30 340.3V351.9M250.80 339.9V351.4M251.30 339.6V353.1M251.80 340.2V352.5M252.30 340.2V351.5M252.80 337.5V351.0M253.30 340.2V352.7M253.80 337.4V350.8M254.30 339.1V350.6M254.80 340.2V353.7M255.30 339.3V353.3M255.80 340.3V352.6M256.30 340.1V350.4M256.80 338.3V350.4M257.30 340.3V351.9M257.80 339.6V351.4M258.30 337.7V351.2M258.80 340.2V350.4M259.30 340.1V350.4M259.80 338.4V350.5M260.30 340.0V351.0M260.80 337.7V352.1M261.30 339.9V351.1M261.80 340.1V351.4M262.30 339.9V350.4M262.80 340.3V354.1M263.30 340.3V351.7M263.80 340.3V352.6M263.80 340.3V335.4M264.30 340.2V354.0M264.80 339.3V354.0M265.30 338.3V353.5M265.80 337.9V355.2M266.30 337.5V357.7M266.80 335.3V364.8M267.30 333.0V366.3M267.80 333.5V366.3M268.30 334.2V367.4M268.80 331.7V368.8M269.30 332.0V365.5M269.80 330.9V368.9M270.30 333.6V364.5M270.80 331.3V365.0M271.30 329.7V367.9M271.80 333.9V367.8M272.30 333.3V367.5M272.80 336.0V367.9M273.30 334.0V369.7M273.80 334.7V365.7M274.30 328.9V359.8M274.30 340.3V334.2M274.80 337.1V365.8M275.30 336.2V364.3M275.80 335.4V359.9M276.30 334.3V358.1M276.80 336.0V354.2M277.30 339.7V352.3M277.80 339.2V351.0M278.30 340.0V350.5M278.80 338.8V351.7M279.30 340.3V350.6M279.80 340.3V351.8M280.30 340.3V350.4M280.80 338.6V354.0M281.30 339.9V350.5M281.80 339.6V351.5M282.30 338.9V351.6M282.80 337.8V350.7M283.30 340.3V350.4M283.80 338.8V352.9M284.30 340.1V352.0M284.30 340.3V337.0M284.80 339.0V350.7M285.30 340.3V350.4M285.80 339.7V353.6M286.30 340.2V350.7M286.80 340.3V350.6M287.30 340.3V352.1M287.80 339.7V350.4M288.30 338.1V351.2M288.80 339.0V353.4M289.30 339.4V351.9M289.30 340.3V337.9M289.80 339.1V353.5M290.30 332.7V357.7M290.80 329.9V362.3M291.30 329.9V362.5M291.80 327.7V370.8M292.30 324.6V369.0M292.80 326.1V373.3M293.30 325.7V370.5M293.80 324.0V364.0M294.30 326.6V365.8M294.80 329.4V363.0M295.30 328.0V372.6M295.80 325.2V374.2M296.30 327.7V366.1M296.80 325.7V369.0M297.30 328.1V366.1M297.80 327.4V371.5M298.30 331.5V360.3M298.80 331.2V363.6M299.30 333.9V360.4M299.80 337.5V356.8M300.30 339.0V355.3M300.80 339.0V353.2M301.30 340.0V351.3M301.80 338.7V350.6M302.30 338.6V350.4M302.80 340.3V350.5M303.30 340.3V350.4M303.80 337.6V352.1M304.30 340.3V352.4M304.80 339.8V350.6M305.30 338.5V350.4M305.80 340.3V351.3M306.30 338.6V350.4M306.80 340.0V350.5M307.30 340.3V350.8M307.80 340.3V352.9M308.30 339.4V353.1M308.80 338.8V355.6M309.30 337.6V355.7M309.80 335.2V356.5M310.30 328.0V365.8M310.80 324.9V364.5M311.30 327.3V372.4M311.80 329.8V366.3M312.30 328.8V367.7M312.80 323.5V367.0M313.30 325.6V370.4M313.30 340.3V336.5M313.80 332.3V369.4M314.30 322.7V367.2M314.80 322.3V362.8M314.80 340.3V335.5M315.30 322.5V372.1M315.30 340.3V338.0M315.80 325.6V368.6M316.30 322.9V365.5M316.80 326.6V368.9M317.30 324.5V369.2M317.80 328.4V366.3M318.30 331.7V363.1M318.80 334.6V363.5M319.30 337.1V355.8M319.80 337.7V352.5M320.30 339.3V352.5M320.80 340.2V350.5M321.30 340.3V350.5M321.80 337.0V354.1M322.30 340.1V353.9M322.80 337.8V352.9M323.30 340.3V350.7M323.80 339.9V350.4M324.30 339.3V352.0M324.80 337.9V352.6M325.30 340.1V350.5M325.80 340.0V350.4M326.30 339.2V350.6M326.80 337.0V353.9M327.30 338.9V350.4M327.80 337.7V350.5M328.30 338.0V351.8M328.80 337.2V351.3M329.30 339.7V352.2M329.80 338.3V356.2M330.30 334.0V356.8M330.80 334.5V359.6M331.30 332.5V369.7M331.80 330.2V370.2M332.30 327.9V370.4M332.80 329.5V371.3M333.30 328.1V364.7M333.80 326.6V373.8M334.30 327.7V372.7M334.80 327.7V371.1M335.30 328.8V368.5M335.80 327.5V366.1M336.30 332.2V373.5M336.80 328.3V372.7M337.30 327.7V371.7M337.80 331.2V364.9M338.30 330.8V369.2M338.80 328.1V361.6M339.30 335.1V360.3M339.80 335.3V359.6M340.30 337.6V357.6M340.80 337.6V352.0M340.80 340.3V333.6M341.30 339.9V350.9M341.80 338.4V350.7M342.30 337.3V350.7M342.80 338.1V350.4M343.30 339.1V351.5M343.80 339.8V350.4M344.30 339.1V350.4M344.80 340.3V350.9M345.30 338.2V353.8M345.80 339.2V350.6M346.30 340.3V350.4M346.80 339.3V351.2M347.30 340.2V350.5M347.80 340.1V350.4M348.30 338.4V351.4M348.80 339.8V351.7M349.30 337.9V350.7M349.80 338.8V351.5M350.30 339.3V352.6M350.80 336.7V356.8M351.30 334.7V359.9M351.80 331.9V363.9M352.30 332.5V366.8M352.80 334.1V368.7M353.30 326.7V366.1M353.80 328.1V372.1M354.30 327.6V362.8M354.80 330.8V372.9M355.30 329.6V370.8M355.80 327.9V371.6M356.30 329.4V371.1M356.80 331.7V362.7M357.30 326.1V370.2M357.80 329.5V368.1M358.30 326.5V367.2M358.80 327.4V360.7M359.30 330.9V363.2M359.80 334.7V360.6M360.30 336.3V357.2M360.80 338.4V354.1M361.30 338.8V351.3M361.80 338.5V352.5M362.30 340.3V350.9M362.80 338.6V354.4M363.30 337.1V351.7M363.80 336.9V351.7M364.30 340.3V351.7M364.80 337.2V351.0M365.30 340.3V351.1M365.80 338.6V352.3M366.30 340.2V350.4M366.80 340.2V350.5M367.30 338.1V354.2M367.80 336.8V351.9M368.30 340.2V350.9M368.80 337.4V351.4M369.30 336.0V354.0M369.80 337.7V355.7M370.30 334.2V358.8M370.80 332.1V367.2M371.30 334.8V368.2M371.80 330.8V368.7M372.30 332.4V372.8M372.80 330.1V370.3M373.30 331.9V365.3M373.80 330.2V374.0M374.30 330.6V368.9M374.80 330.6V369.6M375.30 329.2V365.0M375.80 333.1V371.8M376.30 331.4V372.8M376.80 332.9V367.0M377.30 335.3V366.5M377.80 331.7V360.0M378.30 332.6V369.1M378.30 340.3V337.8M378.80 336.3V363.0M379.30 335.3V360.8M379.80 335.2V354.8M380.30 338.3V353.7M380.80 340.0V354.5M381.30 339.5V350.7M381.80 339.8V350.5M382.30 337.1V353.8M382.80 337.0V350.4M383.30 340.2V350.4M383.30 340.3V337.3M383.80 340.1V350.5M384.30 339.7V350.5M384.80 340.2V352.9M385.30 337.3V350.4M385.80 339.2V352.3M386.30 340.3V351.0M386.80 339.1V353.7M387.30 340.3V350.4M387.80 340.2V353.7M388.30 339.8V351.0M388.80 337.3V355.4M389.30 335.4V355.7M389.80 337.6V358.4M390.30 335.6V358.6M390.80 334.3V364.2M391.30 331.4V370.3M391.80 332.3V371.1M392.30 333.3V369.4M392.80 333.8V372.9M393.30 334.5V375.5M393.80 330.8V371.0M394.30 331.8V374.4M394.80 335.8V366.6M395.30 331.3V367.2M395.80 331.2V365.4M396.30 333.8V374.8M396.80 331.1V368.1M397.30 335.0V373.1M397.80 331.1V366.0M397.80 340.3V333.2M398.30 330.6V366.1M398.80 330.8V363.1M399.30 336.7V368.8M399.80 338.4V359.5M400.30 336.8V357.1M400.80 338.6V354.8M401.30 339.9V352.0M401.80 340.2V350.7M402.30 338.4V350.6M402.80 340.3V352.3M403.30 339.0V350.4M403.80 339.9V351.6M404.30 337.8V350.5M404.80 340.3V350.4M405.30 340.3V350.5M405.80 338.3V351.5M406.30 340.3V350.4M406.80 339.8V350.4M407.30 340.3V353.1M407.80 339.8V350.4M408.30 340.3V353.2M408.80 339.9V352.6M409.30 340.2V352.3M409.80 339.2V353.0M410.30 339.3V352.2M410.80 337.6V356.3M410.80 340.3V334.7M411.30 338.9V363.6M411.80 336.5V363.7M412.30 337.7V364.6M412.80 336.8V368.1M413.30 335.4V362.6M413.80 336.6V364.5M414.30 335.7V362.1M414.80 337.2V360.0M415.30 336.3V361.3M415.80 336.1V365.9M416.30 336.6V362.8M416.80 334.4V360.3" stroke="#161616" stroke-width="0.95" fill="none"/>
<path d="M100.30 336.5V334.8M102.30 351.8V363.4M103.30 354.7V356.4M104.30 353.1V356.6M106.80 352.7V357.6M107.80 353.4V354.5M109.80 356.5V365.4M110.80 357.2V360.7M111.30 337.1V334.1M112.30 335.0V331.8M112.80 334.8V333.5M113.30 360.1V366.5M113.80 363.2V369.4M113.80 351.8V358.9M114.80 360.4V362.4M114.80 334.3V331.8M115.30 358.1V360.3M115.30 335.7V331.6M115.80 362.0V370.7M116.30 366.0V373.7M116.30 351.8V357.1M116.80 362.9V364.6M117.30 361.2V369.0M117.30 361.2V373.1M117.80 360.8V364.5M118.30 362.1V366.8M118.80 361.9V367.6M119.30 362.5V365.5M119.30 333.3V329.4M119.80 362.9V369.0M119.80 334.3V332.6M119.80 362.9V371.6M120.30 362.1V370.3M120.30 333.8V331.6M120.80 334.2V333.1M121.30 359.1V365.8M121.80 361.1V363.5M121.80 335.4V332.8M121.80 361.1V369.4M123.30 357.5V359.5M124.80 355.3V358.6M125.30 337.3V334.6M125.80 357.5V368.4M126.80 336.6V333.8M135.80 351.8V365.2M136.30 338.7V336.6M138.80 338.3V336.5M143.80 351.8V364.4M147.80 354.0V355.3M147.80 351.8V360.2M149.80 356.4V366.4M151.30 359.1V365.4M151.30 359.1V371.4M152.30 359.3V364.6M152.30 359.3V362.7M153.30 358.2V363.5M153.30 358.2V367.1M153.80 358.0V363.0M154.30 361.5V366.4M155.30 333.5V332.4M155.80 363.7V372.0M156.30 363.9V369.6M156.80 333.5V331.9M157.80 362.2V375.0M158.30 365.4V369.0M158.30 334.0V330.0M159.30 360.7V363.6M159.30 331.0V329.4M159.30 351.8V359.6M159.80 362.0V369.2M160.80 335.1V331.6M160.80 362.6V371.4M161.30 362.8V372.7M161.80 336.0V333.4M162.30 362.2V367.4M162.80 361.4V369.3M163.30 356.5V360.8M163.80 357.1V362.2M166.30 338.3V336.7M167.30 338.5V335.5M171.30 353.2V354.9M172.30 353.7V365.7M179.30 352.1V357.9M180.30 355.5V364.1M191.80 352.5V356.0M193.80 335.3V332.0M194.80 357.2V359.2M194.80 357.2V369.0M195.30 357.5V370.2M196.30 358.1V364.5M196.30 334.6V332.4M196.80 358.3V369.4M197.30 363.8V371.3M197.80 335.5V333.5M197.80 357.2V361.6M198.30 362.3V366.1M198.80 364.6V366.4M198.80 336.2V335.1M198.80 364.6V371.7M199.30 360.4V364.4M200.30 333.4V329.6M200.30 367.1V374.2M200.80 367.6V371.0M201.30 364.6V373.2M201.30 364.6V371.6M201.80 361.2V369.3M201.80 361.2V371.9M202.80 364.7V372.7M202.80 364.7V368.5M203.30 362.3V368.3M203.80 364.1V367.2M204.30 359.5V370.6M205.30 359.1V363.8M205.80 335.2V331.2M206.80 359.3V371.5M207.30 358.9V362.3M218.30 351.8V365.0M218.80 352.1V361.0M220.80 338.6V336.8M224.80 351.8V359.3M226.80 338.2V335.2M227.30 352.4V362.6M227.80 355.2V357.6M228.30 353.2V357.1M229.30 354.9V359.4M230.30 356.2V366.0M230.80 355.9V357.3M231.30 351.8V365.3M231.30 357.0V365.8M231.80 358.3V367.7M232.30 359.9V368.0M232.80 359.7V362.7M233.30 363.8V371.1M233.30 332.0V328.9M233.80 335.6V332.9M234.30 361.6V366.2M234.30 335.2V333.2M234.80 364.2V370.9M234.80 364.2V371.1M235.30 335.6V332.2M236.30 362.4V364.2M236.30 334.9V332.1M236.80 334.9V332.3M236.80 361.3V367.6M237.30 358.4V362.7M238.30 363.5V370.9M238.30 332.4V329.4M238.80 331.5V328.2M238.80 364.0V373.9M239.30 361.3V365.0M239.30 335.6V334.2M239.30 361.3V370.3M240.30 360.3V366.4M240.30 360.3V372.3M240.80 359.2V366.9M241.30 363.3V366.7M241.80 360.5V365.5M242.80 360.9V364.6M243.30 360.0V365.1M243.30 360.0V363.9M248.30 352.6V363.6M249.80 352.2V357.1M250.30 340.3V339.0M250.80 339.9V338.1M260.80 352.1V354.7M262.80 354.1V355.9M263.30 351.7V354.2M265.30 353.5V355.0M267.30 366.3V367.4M267.30 333.0V329.7M267.30 350.4V366.2M267.80 366.3V368.0M268.30 367.4V378.3M268.80 331.7V328.1M269.30 365.5V369.5M269.30 332.0V326.8M270.80 365.0V371.9M271.80 367.8V370.2M273.30 369.7V375.9M274.30 359.8V361.3M274.80 337.1V335.7M276.30 358.1V365.3M276.80 336.0V334.7M283.80 352.9V356.0M287.30 352.1V355.0M288.80 339.0V337.0M290.30 332.7V330.1M290.80 362.3V364.9M291.30 362.5V370.3M291.80 370.8V379.0M292.30 324.6V320.4M293.30 325.7V319.1M293.80 364.0V369.2M295.30 372.6V384.8M295.30 328.0V324.4M297.30 366.1V375.8M297.80 371.5V383.2M299.30 333.9V330.8M300.30 355.3V360.1M303.30 340.3V338.5M305.80 350.4V360.7M309.30 337.6V336.4M310.80 364.5V374.5M311.30 372.4V384.8M312.30 367.7V378.5M312.30 328.8V324.8M313.30 325.6V324.2M313.80 332.3V324.9M314.30 322.7V315.1M314.80 322.3V320.7M316.30 365.5V378.6M316.80 326.6V322.0M317.80 366.3V375.6M318.30 331.7V326.0M322.30 350.4V365.6M330.30 350.4V365.8M331.80 370.2V375.3M332.30 370.4V381.5M332.80 371.3V378.4M334.30 327.7V321.2M334.80 327.7V321.9M336.30 332.2V329.1M337.30 327.7V321.2M337.80 364.9V366.9M338.30 369.2V372.2M338.30 330.8V327.1M339.30 360.3V364.8M340.30 337.6V335.7M341.30 339.9V337.5M341.80 338.4V337.4M342.80 338.1V335.8M343.80 350.4V365.0M344.30 350.4V354.0M349.80 350.4V359.1M352.30 332.5V328.7M352.30 350.4V358.6M353.80 372.1V384.4M354.30 362.8V371.4M355.80 371.6V378.6M356.30 329.4V327.6M356.80 362.7V371.6M359.30 363.2V364.7M359.80 360.6V368.4M360.30 357.2V362.7M364.80 351.0V353.2M367.30 354.2V357.4M369.30 354.0V357.0M369.30 336.0V333.1M370.80 367.2V368.9M371.80 368.7V373.5M372.80 370.3V379.0M373.30 365.3V375.3M373.30 331.9V327.4M373.80 330.2V326.2M374.30 368.9V375.0M374.80 330.6V325.1M375.30 365.0V375.0M375.80 371.8V375.2M376.80 367.0V375.8M377.30 366.5V367.5M377.80 360.0V363.3M378.30 350.4V366.1M379.30 335.3V333.7M381.80 350.4V361.2M390.30 335.6V334.2M391.30 350.4V364.3M391.80 371.1V380.1M392.80 372.9V384.0M392.80 333.8V329.6M393.30 375.5V376.6M393.30 334.5V330.9M393.80 371.0V375.2M394.30 331.8V327.9M394.80 366.6V373.0M394.80 335.8V330.3M395.80 365.4V371.4M395.80 331.2V327.4M396.30 374.8V387.7M397.30 373.1V378.6M397.80 366.0V378.3M397.80 331.1V326.4M399.80 359.5V367.3M400.80 350.4V362.8M406.80 350.4V353.1M410.80 337.6V335.8M411.80 336.5V333.4M412.30 364.6V371.8M412.30 337.7V336.0M412.80 368.1V373.8M414.30 362.1V365.9M414.30 335.7V332.4M414.80 360.0V362.6M414.80 337.2V333.0M415.30 336.3V333.3M416.30 362.8V372.0M416.80 334.4V332.5" stroke="#3a3a3a" stroke-width="0.7" fill="none"/>
<line x1="423.2" y1="324.5" x2="423.2" y2="370.5" stroke="#111" stroke-width="2"/>
<path d="M97.30 440.4L97.55 439.8L97.80 441.0L98.05 437.6L98.30 438.6L98.55 435.3L98.80 437.5L99.05 437.4L99.30 433.9L99.55 437.6L99.80 440.0L100.05 434.4L100.30 439.2L100.55 434.1L100.80 440.6L101.05 433.6L101.30 436.5L101.55 433.6L101.80 434.7L102.05 432.6L102.30 436.1L102.55 438.8L102.80 437.8L103.05 437.0L103.30 432.9L103.55 429.9L103.80 434.6L104.05 431.1L104.30 431.4L104.55 431.8L104.80 437.0L105.05 431.5L105.30 435.2L105.55 435.7L105.80 431.7L106.05 432.9L106.30 433.1L106.55 434.0L106.80 434.4L107.05 435.4L107.30 432.0L107.55 434.7L107.80 433.3L108.05 436.6L108.30 432.9L108.55 435.3L108.80 433.3L109.05 430.8L109.30 435.8L109.55 436.1L109.80 436.5L110.05 431.4L110.30 435.6L110.55 434.3L110.80 430.2L111.05 435.0L111.30 429.2L111.55 424.0L111.80 430.0L112.05 428.8L112.30 431.5L112.55 432.0L112.80 430.2L113.05 430.2L113.30 434.4L113.55 432.7L113.80 435.5L114.05 432.8L114.30 429.2L114.55 427.3L114.80 425.7L115.05 418.1L115.30 421.4L115.55 418.6L115.80 416.1L116.05 424.6L116.30 421.9L116.55 422.3L116.80 419.9L117.05 415.9L117.30 420.1L117.55 419.9L117.80 418.2L118.05 417.0L118.30 420.2L118.55 422.5L118.80 421.3L119.05 417.3L119.30 422.6L119.55 416.3L119.80 419.5L120.05 420.2L120.30 420.7L120.55 421.8L120.80 417.0L121.05 423.0L121.30 421.5L121.55 420.1L121.80 419.0L122.05 423.4L122.30 419.9L122.55 423.6L122.80 421.4L123.05 421.4L123.30 421.5L123.55 425.4L123.80 428.2L124.05 422.7L124.30 425.1L124.55 425.8L124.80 423.1L125.05 423.1L125.30 428.1L125.55 428.1L125.80 427.6L126.05 422.7L126.30 424.7L126.55 424.1L126.80 428.5L127.05 425.0L127.30 428.8L127.55 429.3L127.80 423.2L128.05 427.4L128.30 423.3L128.55 422.5L128.80 427.3L129.05 426.6L129.30 423.8L129.55 426.3L129.80 427.3L130.05 427.7L130.30 431.2L130.55 430.7L130.80 428.5L131.05 429.8L131.30 426.9L131.55 429.3L131.80 426.8L132.05 430.5L132.30 428.7L132.55 427.9L132.80 427.7L133.05 430.6L133.30 426.2L133.55 428.5L133.80 427.4L134.05 429.4L134.30 432.5L134.55 429.6L134.80 428.7L135.05 432.9L135.30 431.1L135.55 432.2L135.80 431.6L136.05 433.0L136.30 429.3L136.55 434.0L136.80 431.4L137.05 435.5L137.30 435.7L137.55 438.7L137.80 437.5L138.05 434.0L138.30 433.6L138.55 438.4L138.80 435.3L139.05 436.7L139.30 438.2L139.55 439.0L139.80 440.9L140.05 439.1L140.30 438.6L140.55 434.9L140.80 438.5L141.05 436.8L141.30 434.0L141.55 436.6L141.80 431.5L142.05 438.8L142.30 440.3L142.55 438.2L142.80 438.8L143.05 432.7L143.30 435.0L143.55 437.0L143.80 432.9L144.05 438.8L144.30 439.4L144.55 434.9L144.80 436.6L145.05 436.5L145.30 435.7L145.55 439.0L145.80 434.9L146.05 433.0L146.30 437.9L146.55 431.7L146.80 431.9L147.05 431.8L147.30 436.6L147.55 435.3L147.80 431.4L148.05 437.7L148.30 433.1L148.55 432.0L148.80 431.9L149.05 433.8L149.30 432.4L149.55 435.9L149.80 435.3L150.05 434.6L150.30 436.7L150.55 433.1L150.80 434.9L151.05 432.6L151.30 435.3L151.55 433.5L151.80 434.2L152.05 432.5L152.30 432.8L152.55 430.7L152.80 437.3L153.05 431.8L153.30 430.1L153.55 432.0L153.80 434.1L154.05 431.7L154.30 436.4L154.55 432.5L154.80 431.7L155.05 435.6L155.30 429.8L155.55 434.9L155.80 434.7L156.05 436.3L156.30 434.9L156.55 434.6L156.80 432.6L157.05 430.9L157.30 428.7L157.55 427.1L157.80 430.2L158.05 425.0L158.30 431.4L158.55 431.3L158.80 431.8L159.05 426.7L159.30 430.1L159.55 425.3L159.80 426.9L160.05 425.3L160.30 430.7L160.55 425.9L160.80 423.8L161.05 425.1L161.30 422.6L161.55 420.8L161.80 422.2L162.05 423.8L162.30 426.9L162.55 423.8L162.80 426.0L163.05 424.5L163.30 427.9L163.55 430.0L163.80 428.8L164.05 428.7L164.30 434.0L164.55 428.0L164.80 430.9L165.05 433.1L165.30 432.0L165.55 430.9L165.80 434.6L166.05 432.7L166.30 430.5L166.55 431.6L166.80 430.5L167.05 430.0L167.30 432.7L167.55 430.9L167.80 432.5L168.05 433.8L168.30 427.8L168.55 431.5L168.80 429.1L169.05 426.0L169.30 432.7L169.55 433.1L169.80 426.2L170.05 423.6L170.30 432.2L170.55 430.0L170.80 428.0L171.05 430.2L171.30 427.3L171.55 429.6L171.80 427.0L172.05 427.6L172.30 425.4L172.55 424.0L172.80 424.4L173.05 428.2L173.30 425.2L173.55 424.6L173.80 422.0L174.05 423.9L174.30 421.0L174.55 427.3L174.80 424.9L175.05 424.2L175.30 422.6L175.55 428.4L175.80 422.8L176.05 425.1L176.30 426.1L176.55 430.5L176.80 425.6L177.05 424.5L177.30 424.1L177.55 424.6L177.80 426.7L178.05 426.7L178.30 428.5L178.55 425.0L178.80 424.9L179.05 426.3L179.30 424.5L179.55 428.0L179.80 426.6L180.05 429.7L180.30 427.6L180.55 431.1L180.80 427.9L181.05 432.3L181.30 428.9L181.55 428.6L181.80 429.1L182.05 431.6L182.30 432.3L182.55 430.8L182.80 427.5L183.05 429.8L183.30 432.2L183.55 429.1L183.80 434.2L184.05 433.1L184.30 430.2L184.55 431.8L184.80 429.4L185.05 433.8L185.30 430.1L185.55 435.4L185.80 431.9L186.05 430.2L186.30 434.3L186.55 433.4L186.80 433.9L187.05 431.6L187.30 438.0L187.55 436.3L187.80 427.9L188.05 435.3L188.30 435.3L188.55 433.2L188.80 432.5L189.05 433.8L189.30 430.7L189.55 429.7L189.80 430.3L190.05 429.6L190.30 428.7L190.55 429.8L190.80 433.3L191.05 431.9L191.30 432.3L191.55 430.4L191.80 432.3L192.05 435.0L192.30 433.5L192.55 431.1L192.80 433.6L193.05 431.8L193.30 430.5L193.55 433.2L193.80 433.6L194.05 432.8L194.30 428.5L194.55 429.4L194.80 431.6L195.05 433.3L195.30 429.7L195.55 430.4L195.80 431.0L196.05 429.6L196.30 433.1L196.55 435.9L196.80 428.8L197.05 430.3L197.30 432.9L197.55 433.5L197.80 430.7L198.05 426.6L198.30 432.3L198.55 425.4L198.80 430.8L199.05 427.7L199.30 426.0L199.55 427.6L199.80 431.1L200.05 430.3L200.30 425.4L200.55 427.3L200.80 428.1L201.05 428.4L201.30 425.5L201.55 431.0L201.80 426.4L202.05 428.2L202.30 428.1L202.55 428.3L202.80 431.1L203.05 429.1L203.30 429.8L203.55 427.7L203.80 426.5L204.05 431.4L204.30 425.4L204.55 428.5L204.80 429.2L205.05 428.8L205.30 431.2L205.55 428.3L205.80 427.6L206.05 431.6L206.30 426.0L206.55 426.5L206.80 427.2L207.05 432.1L207.30 432.1L207.55 433.3L207.80 432.8L208.05 430.4L208.30 434.0L208.55 433.5L208.80 433.3L209.05 429.6L209.30 435.4L209.55 434.8L209.80 428.2L210.05 433.9L210.30 433.1L210.55 430.1L210.80 434.6L211.05 430.3L211.30 432.0L211.55 431.4L211.80 432.7L212.05 431.3L212.30 433.0L212.55 427.8L212.80 428.8L213.05 429.8L213.30 428.0L213.55 427.7L213.80 427.8L214.05 434.8L214.30 428.6L214.55 434.0L214.80 434.4L215.05 434.8L215.30 434.4L215.55 434.9L215.80 430.1L216.05 432.3L216.30 436.1L216.55 431.9L216.80 436.4L217.05 433.0L217.30 439.0L217.55 433.8L217.80 434.7L218.05 436.4L218.30 434.0L218.55 434.9L218.80 432.5L219.05 433.4L219.30 438.1L219.55 432.4L219.80 435.7L220.05 430.0L220.30 433.6L220.55 433.3L220.80 431.3L221.05 433.0L221.30 435.9L221.55 436.9L221.80 430.9L222.05 433.4L222.30 429.9L222.55 430.6L222.80 434.3L223.05 430.9L223.30 433.1L223.55 434.0L223.80 429.5L224.05 428.8L224.30 433.2L224.55 430.4L224.80 430.0L225.05 432.6L225.30 431.0L225.55 431.6L225.80 433.6L226.05 433.7L226.30 432.0L226.55 434.9L226.80 428.2L227.05 433.6L227.30 433.6L227.55 429.6L227.80 430.5L228.05 431.1L228.30 433.2L228.55 428.5L228.80 428.7L229.05 434.6L229.30 430.6L229.55 430.8L229.80 430.6L230.05 426.2L230.30 433.3L230.55 428.1L230.80 427.7L231.05 430.7L231.30 430.1L231.55 426.7L231.80 424.6L232.05 426.5L232.30 426.3L232.55 427.2L232.80 422.3L233.05 426.1L233.30 426.6L233.55 424.0L233.80 425.8L234.05 426.2L234.30 425.3L234.55 424.1L234.80 425.1L235.05 424.0L235.30 425.0L235.55 424.5L235.80 425.6L236.05 425.0L236.30 427.8L236.55 422.6L236.80 425.4L237.05 423.9L237.30 427.1L237.55 426.2L237.80 425.1L238.05 423.6L238.30 422.9L238.55 429.0L238.80 424.7L239.05 430.3L239.30 430.4L239.55 428.0L239.80 429.1L240.05 429.5L240.30 427.1L240.55 424.0L240.80 427.1L241.05 430.8L241.30 431.4L241.55 423.5L241.80 425.5L242.05 430.4L242.30 429.6L242.55 430.2L242.80 429.5L243.05 431.7L243.30 428.7L243.55 429.3L243.80 431.0L244.05 426.9L244.30 427.6L244.55 429.7L244.80 434.6L245.05 428.5L245.30 434.3L245.55 429.5L245.80 430.3L246.05 427.3L246.30 427.0L246.55 432.5L246.80 430.9L247.05 434.3L247.30 433.2L247.55 433.9L247.80 434.8L248.05 432.0L248.30 430.0L248.55 432.0L248.80 429.9L249.05 430.4L249.30 433.6L249.55 433.5L249.80 431.8L250.05 430.8L250.30 429.8L250.55 430.5L250.80 434.7L251.05 432.2L251.30 434.4L251.55 432.4L251.80 430.5L252.05 433.0L252.30 435.1L252.55 432.0L252.80 430.5L253.05 430.9L253.30 427.6L253.55 433.7L253.80 435.5L254.05 436.0L254.30 432.8L254.55 433.3L254.80 433.7L255.05 437.7L255.30 436.5L255.55 437.4L255.80 433.1L256.05 438.8L256.30 434.3L256.55 438.6L256.80 435.1L257.05 440.4L257.30 436.4L257.55 437.9L257.80 438.4L258.05 434.8L258.30 437.9L258.55 438.6L258.80 437.1L259.05 434.1L259.30 438.3L259.55 437.3L259.80 433.7L260.05 438.8L260.30 440.3L260.55 433.7L260.80 435.1L261.05 433.3L261.30 438.0L261.55 435.8L261.80 432.6L262.05 431.5L262.30 436.2L262.55 430.9L262.80 432.5L263.05 429.0L263.30 432.4L263.55 432.3L263.80 434.9L264.05 432.8L264.30 433.6L264.55 432.2L264.80 433.5L265.05 432.6L265.30 431.3L265.55 429.7L265.80 432.0L266.05 429.7L266.30 431.7L266.55 429.6L266.80 432.4L267.05 431.6L267.30 434.5L267.55 435.8L267.80 432.9L268.05 433.4L268.30 433.2L268.55 433.6L268.80 433.4L269.05 431.7L269.30 430.0L269.55 432.8L269.80 435.7L270.05 431.1L270.30 430.7L270.55 430.8L270.80 430.2L271.05 429.9L271.30 425.0L271.55 424.0L271.80 419.4L272.05 418.6L272.30 415.5L272.55 415.8L272.80 414.7L273.05 410.4L273.30 408.2L273.55 407.0L273.80 407.7L274.05 402.1L274.30 402.7L274.55 402.1L274.80 406.6L275.05 408.7L275.30 410.2L275.55 413.1L275.80 410.6L276.05 414.1L276.30 418.7L276.55 421.6L276.80 421.3L277.05 423.6L277.30 429.1L277.55 429.5L277.80 424.1L278.05 429.3L278.30 428.0L278.55 430.4L278.80 428.7L279.05 430.1L279.30 431.1L279.55 428.9L279.80 430.7L280.05 435.0L280.30 434.3L280.55 433.0L280.80 438.1L281.05 437.1L281.30 435.8L281.55 436.0L281.80 433.1L282.05 430.0L282.30 437.2L282.55 433.4L282.80 432.3L283.05 435.1L283.30 433.6L283.55 432.4L283.80 431.6L284.05 435.0L284.30 433.2L284.55 437.3L284.80 437.2L285.05 432.9L285.30 436.9L285.55 436.2L285.80 438.3L286.05 435.5L286.30 436.6L286.55 431.9L286.80 431.0L287.05 431.5L287.30 428.9L287.55 431.6L287.80 433.2L288.05 434.3L288.30 434.2L288.55 435.5L288.80 429.5L289.05 429.2L289.30 433.4L289.55 431.4L289.80 436.8L290.05 431.7L290.30 433.7L290.55 437.3L290.80 432.8L291.05 434.4L291.30 432.9L291.55 430.8L291.80 429.1L292.05 433.6L292.30 430.1L292.55 432.3L292.80 434.2L293.05 431.8L293.30 426.4L293.55 423.6L293.80 416.3L294.05 414.6L294.30 414.7L294.55 409.4L294.80 405.7L295.05 400.6L295.30 399.0L295.55 400.8L295.80 398.7L296.05 406.6L296.30 404.7L296.55 405.3L296.80 408.5L297.05 410.0L297.30 406.6L297.55 411.8L297.80 411.7L298.05 416.4L298.30 418.8L298.55 415.7L298.80 419.6L299.05 421.4L299.30 420.0L299.55 425.9L299.80 427.1L300.05 430.3L300.30 430.9L300.55 429.3L300.80 431.0L301.05 432.3L301.30 430.8L301.55 431.0L301.80 437.6L302.05 437.0L302.30 443.1L302.55 438.5L302.80 443.8L303.05 441.4L303.30 442.2L303.55 440.0L303.80 436.9L304.05 436.1L304.30 436.3L304.55 436.7L304.80 440.6L305.05 436.0L305.30 439.5L305.55 438.4L305.80 436.7L306.05 441.6L306.30 441.8L306.55 435.2L306.80 436.5L307.05 437.4L307.30 436.1L307.55 437.1L307.80 438.4L308.05 442.3L308.30 436.1L308.55 437.1L308.80 436.4L309.05 435.1L309.30 436.4L309.55 438.0L309.80 438.8L310.05 432.4L310.30 434.6L310.55 435.5L310.80 435.2L311.05 430.7L311.30 434.7L311.55 435.1L311.80 430.6L312.05 434.2L312.30 430.8L312.55 427.8L312.80 433.6L313.05 432.7L313.30 428.5L313.55 430.8L313.80 427.8L314.05 426.8L314.30 433.4L314.55 430.2L314.80 429.1L315.05 425.4L315.30 427.8L315.55 426.3L315.80 425.0L316.05 428.1L316.30 429.9L316.55 425.3L316.80 430.8L317.05 430.3L317.30 426.9L317.55 426.2L317.80 430.9L318.05 428.9L318.30 432.0L318.55 431.5L318.80 430.8L319.05 428.0L319.30 438.2L319.55 429.7L319.80 431.3L320.05 431.9L320.30 432.9L320.55 434.4L320.80 436.6L321.05 439.4L321.30 435.7L321.55 436.3L321.80 435.7L322.05 430.5L322.30 435.1L322.55 436.0L322.80 436.2L323.05 434.2L323.30 432.7L323.55 431.1L323.80 433.4L324.05 436.5L324.30 435.4L324.55 432.8L324.80 435.3L325.05 434.3L325.30 433.3L325.55 434.2L325.80 433.1L326.05 437.2L326.30 434.4L326.55 433.1L326.80 435.2L327.05 436.4L327.30 434.8L327.55 432.5L327.80 435.5L328.05 435.5L328.30 432.6L328.55 431.0L328.80 434.7L329.05 435.2L329.30 429.9L329.55 433.8L329.80 434.5L330.05 427.6L330.30 432.1L330.55 432.3L330.80 429.6L331.05 427.8L331.30 434.4L331.55 431.6L331.80 432.8L332.05 427.7L332.30 426.7L332.55 432.2L332.80 425.6L333.05 424.6L333.30 424.8L333.55 429.6L333.80 425.2L334.05 424.5L334.30 423.6L334.55 422.7L334.80 424.1L335.05 421.3L335.30 421.3L335.55 424.2L335.80 422.0L336.05 418.8L336.30 418.5L336.55 421.2L336.80 416.0L337.05 415.5L337.30 420.8L337.55 422.7L337.80 420.3L338.05 417.2L338.30 424.4L338.55 421.5L338.80 425.6L339.05 425.2L339.30 421.1L339.55 424.3L339.80 428.9L340.05 429.2L340.30 429.7L340.55 424.2L340.80 427.4L341.05 430.0L341.30 429.7L341.55 427.0L341.80 432.2L342.05 432.1L342.30 433.3L342.55 431.6L342.80 433.6L343.05 432.8L343.30 433.7L343.55 428.5L343.80 429.8L344.05 434.1L344.30 436.1L344.55 430.1L344.80 431.7L345.05 435.7L345.30 433.9L345.55 430.6L345.80 430.9L346.05 431.3L346.30 434.9L346.55 429.2L346.80 433.1L347.05 436.2L347.30 432.2L347.55 438.0L347.80 435.3L348.05 437.1L348.30 436.1L348.55 438.6L348.80 439.2L349.05 439.7L349.30 434.7L349.55 434.9L349.80 438.0L350.05 438.6L350.30 435.8L350.55 438.9L350.80 433.6L351.05 434.8L351.30 430.5L351.55 427.5L351.80 417.8L352.05 415.8L352.30 408.7L352.55 410.0L352.80 401.8L353.05 397.9L353.30 390.8L353.55 396.4L353.80 396.6L354.05 401.8L354.30 405.6L354.55 406.0L354.80 406.2L355.05 408.0L355.30 409.3L355.55 410.5L355.80 418.8L356.05 416.7L356.30 420.2L356.55 423.4L356.80 426.8L357.05 430.0L357.30 428.8L357.55 425.6L357.80 425.2L358.05 428.2L358.30 423.1L358.55 423.6L358.80 424.6L359.05 425.0L359.30 424.3L359.55 427.1L359.80 422.5L360.05 426.5L360.30 428.7L360.55 432.1L360.80 429.9L361.05 433.3L361.30 434.3L361.55 434.9L361.80 435.4L362.05 439.1L362.30 438.4L362.55 435.0L362.80 434.5L363.05 438.6L363.30 438.5L363.55 434.0L363.80 434.8L364.05 433.6L364.30 433.7L364.55 432.8L364.80 432.7L365.05 429.8L365.30 436.1L365.55 439.3L365.80 435.3L366.05 433.7L366.30 432.0L366.55 438.1L366.80 432.8L367.05 435.6L367.30 435.9L367.55 433.6L367.80 434.9L368.05 435.7L368.30 431.4L368.55 433.9L368.80 434.8L369.05 434.6L369.30 433.8L369.55 431.7L369.80 431.7L370.05 432.7L370.30 434.0L370.55 433.3L370.80 433.6L371.05 432.3L371.30 429.1L371.55 429.7L371.80 425.0L372.05 428.3L372.30 422.8L372.55 426.6L372.80 423.0L373.05 423.4L373.30 422.1L373.55 421.8L373.80 422.8L374.05 419.1L374.30 418.6L374.55 420.0L374.80 415.8L375.05 409.7L375.30 417.5L375.55 418.1L375.80 417.5L376.05 415.4L376.30 418.0L376.55 416.6L376.80 422.0L377.05 423.5L377.30 419.1L377.55 421.8L377.80 418.7L378.05 418.9L378.30 422.1L378.55 425.1L378.80 421.5L379.05 422.2L379.30 420.6L379.55 423.8L379.80 426.3L380.05 425.8L380.30 430.6L380.55 430.2L380.80 431.5L381.05 435.5L381.30 436.8L381.55 432.5L381.80 430.5L382.05 436.9L382.30 432.4L382.55 431.0L382.80 437.4L383.05 431.7L383.30 435.4L383.55 437.8L383.80 435.3L384.05 431.6L384.30 432.2L384.55 430.1L384.80 434.3L385.05 435.1L385.30 432.5L385.55 432.9L385.80 431.9L386.05 437.7L386.30 436.5L386.55 434.2L386.80 431.5L387.05 437.5L387.30 434.7L387.55 435.2L387.80 430.3L388.05 432.4L388.30 431.5L388.55 433.9L388.80 436.0L389.05 434.3L389.30 434.3L389.55 435.5L389.80 434.8L390.05 436.7L390.30 431.7L390.55 427.0L390.80 423.6L391.05 420.4L391.30 416.2L391.55 413.3L391.80 406.8L392.05 402.8L392.30 403.2L392.55 392.8L392.80 390.9L393.05 393.8L393.30 391.4L393.55 401.8L393.80 400.4L394.05 402.1L394.30 407.5L394.55 414.2L394.80 416.3L395.05 419.7L395.30 418.6L395.55 418.0L395.80 423.1L396.05 417.2L396.30 423.3L396.55 420.6L396.80 417.9L397.05 417.1L397.30 417.2L397.55 419.8L397.80 418.6L398.05 418.8L398.30 423.0L398.55 420.2L398.80 418.7L399.05 425.0L399.30 427.3L399.55 428.6L399.80 426.7L400.05 427.6L400.30 434.9L400.55 433.4L400.80 433.0L401.05 438.7L401.30 436.2L401.55 438.1L401.80 437.2L402.05 437.1L402.30 440.7L402.55 435.8L402.80 438.1L403.05 436.9L403.30 437.4L403.55 435.4L403.80 438.8L404.05 435.0L404.30 437.7L404.55 433.8L404.80 438.3L405.05 437.4L405.30 433.5L405.55 434.9L405.80 437.3L406.05 437.5L406.30 433.7L406.55 432.6L406.80 435.6L407.05 433.9L407.30 435.8L407.55 433.2L407.80 434.6L408.05 432.6L408.30 436.4L408.55 436.6L408.80 438.4L409.05 438.9L409.30 432.8L409.55 435.0L409.80 433.7L410.05 435.0L410.30 437.1L410.55 435.0L410.80 432.6L411.05 438.6L411.30 437.4L411.55 434.9L411.80 432.9L412.05 433.7L412.30 433.8L412.55 435.5L412.80 432.8L413.05 431.4L413.30 436.4L413.55 435.8L413.80 436.1L414.05 435.0L414.30 433.3L414.55 430.0L414.80 433.1L415.05 430.3L415.30 431.8L415.55 430.0L415.80 433.0L416.05 434.4L416.30 432.8L416.55 436.2" stroke="#231c6c" stroke-width="1.05" fill="none"/>
<polyline points="97,439 105,435 114,431 115,420 120,419 125,425 135,428 139,437 145,435.5 155,433.5 162,424 165,434 170,430 174,425 179,426 181,431 190,432 197,432 200,427 206,428 208,432 212,429 218,434 225,431 230,432 232.7,424 240,427 243,429 246,431 250,432 254,433.3 258.5,437 263,431.8 270.5,433 274.3,400.5 276.5,417.6 277.3,428 281,434 290,433.3 293,431 295.3,397.5 297.6,413 300.6,429.6 302.8,442.5 308,437.5 315.6,427 320,434 324.6,434 332,431 337.2,419 342.8,431.2 350.9,436.5 353.3,394.5 355.7,415 357.3,430 358.9,422 362.1,436.5 370.1,433.6 374.9,418 378.1,423.1 381.3,434 390.2,434 392.9,390.5 395,418.3 398.2,419.5 401.4,438 408.6,434.4 416.6,432.8" stroke="#231c6c" stroke-width="2.0" fill="none" stroke-linejoin="round"/>
<path d="M243.5 415 V441" stroke="#231c6c" stroke-width="1"/>
<line x1="422.5" y1="402" x2="422.5" y2="439" stroke="#111" stroke-width="2"/>
<line x1="388" y1="463.8" x2="410.5" y2="463.8" stroke="#111" stroke-width="2"/>
<text x="451.2" y="303.2" font-size="22.5" fill="#111" text-anchor="start" >D</text>
<rect x="520.5" y="297.3" width="208.8" height="164.7" fill="none" stroke="#222" stroke-width="1.25"/>
<text x="509.3" y="463.2" font-size="9.6" fill="#444" text-anchor="middle" >0</text>
<text x="509.3" y="441.53999999999996" font-size="9.6" fill="#444" text-anchor="middle" >100</text>
<text x="509.3" y="419.88" font-size="9.6" fill="#444" text-anchor="middle" >200</text>
<text x="509.3" y="398.21999999999997" font-size="9.6" fill="#444" text-anchor="middle" >300</text>
<text x="509.3" y="376.56" font-size="9.6" fill="#444" text-anchor="middle" >400</text>
<text x="509.3" y="354.9" font-size="9.6" fill="#444" text-anchor="middle" >500</text>
<text x="509.3" y="333.24" font-size="9.6" fill="#444" text-anchor="middle" >600</text>
<text x="509.3" y="311.58" font-size="9.6" fill="#444" text-anchor="middle" >700</text>
<text x="541.3" y="472.5" font-size="9.6" fill="#444" text-anchor="middle" >0.05</text>
<text x="581.4" y="472.5" font-size="9.6" fill="#444" text-anchor="middle" >0.10</text>
<text x="615.3" y="472.5" font-size="9.6" fill="#444" text-anchor="middle" >0.15</text>
<text x="661" y="472.5" font-size="9.6" fill="#444" text-anchor="middle" >0.25</text>
<text x="693.3" y="472.5" font-size="9.6" fill="#444" text-anchor="middle" >0.28</text>
<text x="731.3" y="472.5" font-size="9.6" fill="#444" text-anchor="middle" >0.30</text>
<text x="632.5" y="491" font-size="14.5" fill="#222" text-anchor="middle" >instant. locomotor freq. (Hz)</text>
<text transform="translate(493.3,376.5) rotate(-90)" font-size="14.5" fill="#222" text-anchor="middle">L2 DRP area (µV*s)</text>
<text x="541.5" y="321.7" font-size="12.8" fill="#111" text-anchor="start" >n = 10</text>
<circle cx="532.9" cy="461.9" r="2.9" fill="#2c3577" stroke="#1b1f4a" stroke-width="0.6"/>
<circle cx="541.6" cy="461.7" r="2.9" fill="#2c3577" stroke="#1b1f4a" stroke-width="0.6"/>
<circle cx="552.9" cy="458.0" r="2.9" fill="#2c3577" stroke="#1b1f4a" stroke-width="0.6"/>
<circle cx="559.0" cy="458.0" r="2.9" fill="#2c3577" stroke="#1b1f4a" stroke-width="0.6"/>
<circle cx="566.5" cy="458.9" r="2.9" fill="#2c3577" stroke="#1b1f4a" stroke-width="0.6"/>
<circle cx="576.3" cy="455.3" r="2.9" fill="#2c3577" stroke="#1b1f4a" stroke-width="0.6"/>
<circle cx="582.8" cy="455.4" r="2.9" fill="#2c3577" stroke="#1b1f4a" stroke-width="0.6"/>
<circle cx="590.6" cy="450.5" r="2.9" fill="#2c3577" stroke="#1b1f4a" stroke-width="0.6"/>
<circle cx="597.0" cy="448.9" r="2.9" fill="#2c3577" stroke="#1b1f4a" stroke-width="0.6"/>
<circle cx="603.4" cy="447.3" r="2.9" fill="#2c3577" stroke="#1b1f4a" stroke-width="0.6"/>
<circle cx="604.6" cy="444.2" r="2.9" fill="#2c3577" stroke="#1b1f4a" stroke-width="0.6"/>
<circle cx="607.4" cy="442.7" r="2.9" fill="#2c3577" stroke="#1b1f4a" stroke-width="0.6"/>
<circle cx="607.3" cy="440.9" r="2.9" fill="#2c3577" stroke="#1b1f4a" stroke-width="0.6"/>
<circle cx="609.9" cy="441.4" r="2.9" fill="#2c3577" stroke="#1b1f4a" stroke-width="0.6"/>
<circle cx="612.0" cy="439.8" r="2.9" fill="#2c3577" stroke="#1b1f4a" stroke-width="0.6"/>
<circle cx="613.7" cy="437.6" r="2.9" fill="#2c3577" stroke="#1b1f4a" stroke-width="0.6"/>
<circle cx="613.9" cy="436.8" r="2.9" fill="#2c3577" stroke="#1b1f4a" stroke-width="0.6"/>
<circle cx="617.8" cy="434.2" r="2.9" fill="#2c3577" stroke="#1b1f4a" stroke-width="0.6"/>
<circle cx="619.3" cy="432.8" r="2.9" fill="#2c3577" stroke="#1b1f4a" stroke-width="0.6"/>
<circle cx="620.3" cy="430.5" r="2.9" fill="#2c3577" stroke="#1b1f4a" stroke-width="0.6"/>
<circle cx="621.5" cy="428.3" r="2.9" fill="#2c3577" stroke="#1b1f4a" stroke-width="0.6"/>
<circle cx="620.6" cy="426.7" r="2.9" fill="#2c3577" stroke="#1b1f4a" stroke-width="0.6"/>
<circle cx="622.6" cy="424.1" r="2.9" fill="#2c3577" stroke="#1b1f4a" stroke-width="0.6"/>
<circle cx="625.5" cy="421.5" r="2.9" fill="#2c3577" stroke="#1b1f4a" stroke-width="0.6"/>
<circle cx="624.7" cy="419.6" r="2.9" fill="#2c3577" stroke="#1b1f4a" stroke-width="0.6"/>
<circle cx="627.7" cy="418.4" r="2.9" fill="#2c3577" stroke="#1b1f4a" stroke-width="0.6"/>
<circle cx="629.2" cy="416.5" r="2.9" fill="#2c3577" stroke="#1b1f4a" stroke-width="0.6"/>
<circle cx="607.8" cy="455.4" r="2.9" fill="#2c3577" stroke="#1b1f4a" stroke-width="0.6"/>
<circle cx="612.8" cy="455.2" r="2.9" fill="#2c3577" stroke="#1b1f4a" stroke-width="0.6"/>
<circle cx="619.1" cy="453.4" r="2.9" fill="#2c3577" stroke="#1b1f4a" stroke-width="0.6"/>
<circle cx="627.5" cy="449.0" r="2.9" fill="#2c3577" stroke="#1b1f4a" stroke-width="0.6"/>
<circle cx="629.1" cy="449.1" r="2.9" fill="#2c3577" stroke="#1b1f4a" stroke-width="0.6"/>
<circle cx="631.0" cy="447.2" r="2.9" fill="#2c3577" stroke="#1b1f4a" stroke-width="0.6"/>
<circle cx="633.3" cy="445.2" r="2.9" fill="#2c3577" stroke="#1b1f4a" stroke-width="0.6"/>
<circle cx="635.8" cy="445.7" r="2.9" fill="#2c3577" stroke="#1b1f4a" stroke-width="0.6"/>
<circle cx="637.2" cy="445.1" r="2.9" fill="#2c3577" stroke="#1b1f4a" stroke-width="0.6"/>
<circle cx="641.1" cy="441.9" r="2.9" fill="#2c3577" stroke="#1b1f4a" stroke-width="0.6"/>
<circle cx="643.4" cy="440.0" r="2.9" fill="#2c3577" stroke="#1b1f4a" stroke-width="0.6"/>
<circle cx="643.9" cy="439.9" r="2.9" fill="#2c3577" stroke="#1b1f4a" stroke-width="0.6"/>
<circle cx="647.7" cy="439.0" r="2.9" fill="#2c3577" stroke="#1b1f4a" stroke-width="0.6"/>
<circle cx="646.9" cy="438.4" r="2.9" fill="#2c3577" stroke="#1b1f4a" stroke-width="0.6"/>
<circle cx="649.0" cy="434.3" r="2.9" fill="#2c3577" stroke="#1b1f4a" stroke-width="0.6"/>
<circle cx="652.1" cy="432.2" r="2.9" fill="#2c3577" stroke="#1b1f4a" stroke-width="0.6"/>
<circle cx="653.3" cy="431.0" r="2.9" fill="#2c3577" stroke="#1b1f4a" stroke-width="0.6"/>
<circle cx="655.0" cy="429.6" r="2.9" fill="#2c3577" stroke="#1b1f4a" stroke-width="0.6"/>
<circle cx="656.5" cy="427.8" r="2.9" fill="#2c3577" stroke="#1b1f4a" stroke-width="0.6"/>
<circle cx="658.2" cy="427.0" r="2.9" fill="#2c3577" stroke="#1b1f4a" stroke-width="0.6"/>
<circle cx="659.5" cy="424.6" r="2.9" fill="#2c3577" stroke="#1b1f4a" stroke-width="0.6"/>
<circle cx="660.5" cy="422.3" r="2.9" fill="#2c3577" stroke="#1b1f4a" stroke-width="0.6"/>
<circle cx="661.1" cy="420.5" r="2.9" fill="#2c3577" stroke="#1b1f4a" stroke-width="0.6"/>
<circle cx="663.8" cy="417.6" r="2.9" fill="#2c3577" stroke="#1b1f4a" stroke-width="0.6"/>
<circle cx="664.5" cy="416.8" r="2.9" fill="#2c3577" stroke="#1b1f4a" stroke-width="0.6"/>
<circle cx="666.3" cy="415.0" r="2.9" fill="#2c3577" stroke="#1b1f4a" stroke-width="0.6"/>
<circle cx="666.8" cy="413.5" r="2.9" fill="#2c3577" stroke="#1b1f4a" stroke-width="0.6"/>
<circle cx="667.6" cy="411.7" r="2.9" fill="#2c3577" stroke="#1b1f4a" stroke-width="0.6"/>
<circle cx="683.2" cy="431.4" r="2.9" fill="#2c3577" stroke="#1b1f4a" stroke-width="0.6"/>
<circle cx="686.0" cy="424.2" r="2.9" fill="#2c3577" stroke="#1b1f4a" stroke-width="0.6"/>
<circle cx="688.9" cy="415.5" r="2.9" fill="#2c3577" stroke="#1b1f4a" stroke-width="0.6"/>
<circle cx="691.3" cy="405.7" r="2.9" fill="#2c3577" stroke="#1b1f4a" stroke-width="0.6"/>
<circle cx="692.6" cy="396.0" r="2.9" fill="#2c3577" stroke="#1b1f4a" stroke-width="0.6"/>
<circle cx="693.9" cy="387.5" r="2.9" fill="#2c3577" stroke="#1b1f4a" stroke-width="0.6"/>
<circle cx="664.8" cy="451.3" r="2.9" fill="#2c3577" stroke="#1b1f4a" stroke-width="0.6"/>
<circle cx="670.7" cy="447.8" r="2.9" fill="#2c3577" stroke="#1b1f4a" stroke-width="0.6"/>
<circle cx="674.7" cy="443.6" r="2.9" fill="#2c3577" stroke="#1b1f4a" stroke-width="0.6"/>
<circle cx="681.5" cy="438.0" r="2.9" fill="#2c3577" stroke="#1b1f4a" stroke-width="0.6"/>
<circle cx="681.8" cy="435.9" r="2.9" fill="#2c3577" stroke="#1b1f4a" stroke-width="0.6"/>
<circle cx="685.5" cy="429.4" r="2.9" fill="#2c3577" stroke="#1b1f4a" stroke-width="0.6"/>
<circle cx="690.4" cy="421.7" r="2.9" fill="#2c3577" stroke="#1b1f4a" stroke-width="0.6"/>
<circle cx="692.0" cy="422.8" r="2.9" fill="#2c3577" stroke="#1b1f4a" stroke-width="0.6"/>
<circle cx="694.8" cy="417.1" r="2.9" fill="#2c3577" stroke="#1b1f4a" stroke-width="0.6"/>
<circle cx="696.4" cy="417.8" r="2.9" fill="#2c3577" stroke="#1b1f4a" stroke-width="0.6"/>
<circle cx="696.9" cy="412.8" r="2.9" fill="#2c3577" stroke="#1b1f4a" stroke-width="0.6"/>
<circle cx="696.0" cy="410.4" r="2.9" fill="#2c3577" stroke="#1b1f4a" stroke-width="0.6"/>
<circle cx="698.4" cy="409.9" r="2.9" fill="#2c3577" stroke="#1b1f4a" stroke-width="0.6"/>
<circle cx="697.7" cy="408.4" r="2.9" fill="#2c3577" stroke="#1b1f4a" stroke-width="0.6"/>
<circle cx="700.2" cy="405.0" r="2.9" fill="#2c3577" stroke="#1b1f4a" stroke-width="0.6"/>
<circle cx="699.9" cy="403.1" r="2.9" fill="#2c3577" stroke="#1b1f4a" stroke-width="0.6"/>
<circle cx="701.2" cy="400.3" r="2.9" fill="#2c3577" stroke="#1b1f4a" stroke-width="0.6"/>
<circle cx="703.3" cy="395.3" r="2.9" fill="#2c3577" stroke="#1b1f4a" stroke-width="0.6"/>
<circle cx="700.9" cy="393.4" r="2.9" fill="#2c3577" stroke="#1b1f4a" stroke-width="0.6"/>
<circle cx="704.8" cy="391.3" r="2.9" fill="#2c3577" stroke="#1b1f4a" stroke-width="0.6"/>
<circle cx="703.5" cy="389.6" r="2.9" fill="#2c3577" stroke="#1b1f4a" stroke-width="0.6"/>
<circle cx="704.8" cy="386.7" r="2.9" fill="#2c3577" stroke="#1b1f4a" stroke-width="0.6"/>
<circle cx="706.4" cy="384.2" r="2.9" fill="#2c3577" stroke="#1b1f4a" stroke-width="0.6"/>
<circle cx="706.9" cy="380.5" r="2.9" fill="#2c3577" stroke="#1b1f4a" stroke-width="0.6"/>
<circle cx="707.4" cy="379.2" r="2.9" fill="#2c3577" stroke="#1b1f4a" stroke-width="0.6"/>
<circle cx="707.1" cy="375.4" r="2.9" fill="#2c3577" stroke="#1b1f4a" stroke-width="0.6"/>
<circle cx="709.0" cy="372.9" r="2.9" fill="#2c3577" stroke="#1b1f4a" stroke-width="0.6"/>
<circle cx="709.2" cy="371.8" r="2.9" fill="#2c3577" stroke="#1b1f4a" stroke-width="0.6"/>
<circle cx="707.1" cy="370.8" r="2.9" fill="#2c3577" stroke="#1b1f4a" stroke-width="0.6"/>
<circle cx="710.2" cy="365.2" r="2.9" fill="#2c3577" stroke="#1b1f4a" stroke-width="0.6"/>
<circle cx="708.7" cy="365.6" r="2.9" fill="#2c3577" stroke="#1b1f4a" stroke-width="0.6"/>
<circle cx="710.2" cy="361.8" r="2.9" fill="#2c3577" stroke="#1b1f4a" stroke-width="0.6"/>
<circle cx="710.6" cy="357.2" r="2.9" fill="#2c3577" stroke="#1b1f4a" stroke-width="0.6"/>
<circle cx="709.8" cy="355.6" r="2.9" fill="#2c3577" stroke="#1b1f4a" stroke-width="0.6"/>
<circle cx="710.5" cy="353.5" r="2.9" fill="#2c3577" stroke="#1b1f4a" stroke-width="0.6"/>
<circle cx="711.9" cy="352.2" r="2.9" fill="#2c3577" stroke="#1b1f4a" stroke-width="0.6"/>
<circle cx="711.1" cy="349.3" r="2.9" fill="#2c3577" stroke="#1b1f4a" stroke-width="0.6"/>
<circle cx="712.3" cy="346.6" r="2.9" fill="#2c3577" stroke="#1b1f4a" stroke-width="0.6"/>
<circle cx="713.0" cy="342.1" r="2.9" fill="#2c3577" stroke="#1b1f4a" stroke-width="0.6"/>
<circle cx="714.8" cy="339.5" r="2.9" fill="#2c3577" stroke="#1b1f4a" stroke-width="0.6"/>
<circle cx="715.6" cy="337.8" r="2.9" fill="#2c3577" stroke="#1b1f4a" stroke-width="0.6"/>
<circle cx="713.5" cy="336.2" r="2.9" fill="#2c3577" stroke="#1b1f4a" stroke-width="0.6"/>
<circle cx="715.9" cy="335.1" r="2.9" fill="#2c3577" stroke="#1b1f4a" stroke-width="0.6"/>
<circle cx="714.6" cy="329.3" r="2.9" fill="#2c3577" stroke="#1b1f4a" stroke-width="0.6"/>
<circle cx="678.0" cy="449.4" r="2.9" fill="#2c3577" stroke="#1b1f4a" stroke-width="0.6"/>
<circle cx="682.7" cy="446.8" r="2.9" fill="#2c3577" stroke="#1b1f4a" stroke-width="0.6"/>
<circle cx="689.4" cy="442.3" r="2.9" fill="#2c3577" stroke="#1b1f4a" stroke-width="0.6"/>
<circle cx="693.4" cy="435.5" r="2.9" fill="#2c3577" stroke="#1b1f4a" stroke-width="0.6"/>
<circle cx="697.3" cy="430.9" r="2.9" fill="#2c3577" stroke="#1b1f4a" stroke-width="0.6"/>
<circle cx="700.6" cy="425.4" r="2.9" fill="#2c3577" stroke="#1b1f4a" stroke-width="0.6"/>
<circle cx="701.1" cy="418.2" r="2.9" fill="#2c3577" stroke="#1b1f4a" stroke-width="0.6"/>
<circle cx="705.7" cy="410.9" r="2.9" fill="#2c3577" stroke="#1b1f4a" stroke-width="0.6"/>
<circle cx="706.9" cy="404.7" r="2.9" fill="#2c3577" stroke="#1b1f4a" stroke-width="0.6"/>
<circle cx="709.6" cy="400.4" r="2.9" fill="#2c3577" stroke="#1b1f4a" stroke-width="0.6"/>
<circle cx="713.4" cy="392.7" r="2.9" fill="#2c3577" stroke="#1b1f4a" stroke-width="0.6"/>
<circle cx="714.1" cy="387.1" r="2.9" fill="#2c3577" stroke="#1b1f4a" stroke-width="0.6"/>
<circle cx="635.8" cy="451.4" r="2.9" fill="#2c3577" stroke="#1b1f4a" stroke-width="0.6"/>
<circle cx="636.8" cy="449.3" r="2.9" fill="#2c3577" stroke="#1b1f4a" stroke-width="0.6"/>
<circle cx="642.1" cy="449.0" r="2.9" fill="#2c3577" stroke="#1b1f4a" stroke-width="0.6"/>
<circle cx="646.8" cy="445.5" r="2.9" fill="#2c3577" stroke="#1b1f4a" stroke-width="0.6"/>
<circle cx="652.0" cy="445.0" r="2.9" fill="#2c3577" stroke="#1b1f4a" stroke-width="0.6"/>
<circle cx="655.4" cy="444.9" r="2.9" fill="#2c3577" stroke="#1b1f4a" stroke-width="0.6"/>
<circle cx="660.7" cy="439.8" r="2.9" fill="#2c3577" stroke="#1b1f4a" stroke-width="0.6"/>
<circle cx="663.4" cy="439.8" r="2.9" fill="#2c3577" stroke="#1b1f4a" stroke-width="0.6"/>
<circle cx="665.9" cy="435.9" r="2.9" fill="#2c3577" stroke="#1b1f4a" stroke-width="0.6"/>
<circle cx="671.9" cy="435.8" r="2.9" fill="#2c3577" stroke="#1b1f4a" stroke-width="0.6"/>
<circle cx="675.1" cy="430.9" r="2.9" fill="#2c3577" stroke="#1b1f4a" stroke-width="0.6"/>
<circle cx="678.4" cy="429.8" r="2.9" fill="#2c3577" stroke="#1b1f4a" stroke-width="0.6"/>
<circle cx="679.3" cy="423.4" r="2.9" fill="#2c3577" stroke="#1b1f4a" stroke-width="0.6"/>
<circle cx="684.4" cy="423.6" r="2.9" fill="#2c3577" stroke="#1b1f4a" stroke-width="0.6"/>
<circle cx="688.6" cy="417.3" r="2.9" fill="#2c3577" stroke="#1b1f4a" stroke-width="0.6"/>
<circle cx="689.2" cy="415.9" r="2.9" fill="#2c3577" stroke="#1b1f4a" stroke-width="0.6"/>
<circle cx="692.0" cy="410.0" r="2.9" fill="#2c3577" stroke="#1b1f4a" stroke-width="0.6"/>
<circle cx="694.9" cy="408.0" r="2.9" fill="#2c3577" stroke="#1b1f4a" stroke-width="0.6"/>
<circle cx="696.5" cy="404.7" r="2.9" fill="#2c3577" stroke="#1b1f4a" stroke-width="0.6"/>
<circle cx="700.0" cy="399.8" r="2.9" fill="#2c3577" stroke="#1b1f4a" stroke-width="0.6"/>
<circle cx="605.1" cy="459.7" r="2.9" fill="#2c3577" stroke="#1b1f4a" stroke-width="0.6"/>
<circle cx="610.2" cy="456.5" r="2.9" fill="#2c3577" stroke="#1b1f4a" stroke-width="0.6"/>
<circle cx="617.5" cy="456.5" r="2.9" fill="#2c3577" stroke="#1b1f4a" stroke-width="0.6"/>
<circle cx="622.9" cy="457.5" r="2.9" fill="#2c3577" stroke="#1b1f4a" stroke-width="0.6"/>
<circle cx="628.9" cy="456.1" r="2.9" fill="#2c3577" stroke="#1b1f4a" stroke-width="0.6"/>
<circle cx="635.9" cy="454.7" r="2.9" fill="#2c3577" stroke="#1b1f4a" stroke-width="0.6"/>
<circle cx="643.0" cy="452.3" r="2.9" fill="#2c3577" stroke="#1b1f4a" stroke-width="0.6"/>
<circle cx="645.5" cy="450.7" r="2.9" fill="#2c3577" stroke="#1b1f4a" stroke-width="0.6"/>
<circle cx="651.2" cy="447.2" r="2.9" fill="#2c3577" stroke="#1b1f4a" stroke-width="0.6"/>
<circle cx="657.0" cy="445.6" r="2.9" fill="#2c3577" stroke="#1b1f4a" stroke-width="0.6"/>
<circle cx="665.7" cy="445.7" r="2.9" fill="#2c3577" stroke="#1b1f4a" stroke-width="0.6"/>
<circle cx="668.5" cy="440.2" r="2.9" fill="#2c3577" stroke="#1b1f4a" stroke-width="0.6"/>
<circle cx="672.8" cy="438.5" r="2.9" fill="#2c3577" stroke="#1b1f4a" stroke-width="0.6"/>
<circle cx="679.3" cy="436.9" r="2.9" fill="#2c3577" stroke="#1b1f4a" stroke-width="0.6"/>
<circle cx="683.7" cy="431.8" r="2.9" fill="#2c3577" stroke="#1b1f4a" stroke-width="0.6"/>
<circle cx="688.9" cy="426.2" r="2.9" fill="#2c3577" stroke="#1b1f4a" stroke-width="0.6"/>
<circle cx="641.3" cy="454.7" r="2.9" fill="#2c3577" stroke="#1b1f4a" stroke-width="0.6"/>
<circle cx="644.1" cy="455.9" r="2.9" fill="#2c3577" stroke="#1b1f4a" stroke-width="0.6"/>
<circle cx="646.7" cy="456.4" r="2.9" fill="#2c3577" stroke="#1b1f4a" stroke-width="0.6"/>
<circle cx="649.8" cy="453.2" r="2.9" fill="#2c3577" stroke="#1b1f4a" stroke-width="0.6"/>
<circle cx="651.1" cy="455.3" r="2.9" fill="#2c3577" stroke="#1b1f4a" stroke-width="0.6"/>
<circle cx="652.1" cy="452.7" r="2.9" fill="#2c3577" stroke="#1b1f4a" stroke-width="0.6"/>
<circle cx="656.2" cy="451.0" r="2.9" fill="#2c3577" stroke="#1b1f4a" stroke-width="0.6"/>
<circle cx="659.7" cy="453.4" r="2.9" fill="#2c3577" stroke="#1b1f4a" stroke-width="0.6"/>
<circle cx="660.1" cy="450.3" r="2.9" fill="#2c3577" stroke="#1b1f4a" stroke-width="0.6"/>
<circle cx="662.1" cy="450.7" r="2.9" fill="#2c3577" stroke="#1b1f4a" stroke-width="0.6"/>
<circle cx="663.3" cy="448.8" r="2.9" fill="#2c3577" stroke="#1b1f4a" stroke-width="0.6"/>
<circle cx="665.8" cy="448.6" r="2.9" fill="#2c3577" stroke="#1b1f4a" stroke-width="0.6"/>
<circle cx="669.9" cy="446.9" r="2.9" fill="#2c3577" stroke="#1b1f4a" stroke-width="0.6"/>
<circle cx="672.4" cy="444.1" r="2.9" fill="#2c3577" stroke="#1b1f4a" stroke-width="0.6"/>
<circle cx="675.4" cy="445.8" r="2.9" fill="#2c3577" stroke="#1b1f4a" stroke-width="0.6"/>
<circle cx="674.7" cy="443.2" r="2.9" fill="#2c3577" stroke="#1b1f4a" stroke-width="0.6"/>
<circle cx="677.7" cy="443.1" r="2.9" fill="#2c3577" stroke="#1b1f4a" stroke-width="0.6"/>
<circle cx="680.0" cy="440.0" r="2.9" fill="#2c3577" stroke="#1b1f4a" stroke-width="0.6"/>
<circle cx="680.1" cy="437.6" r="2.9" fill="#2c3577" stroke="#1b1f4a" stroke-width="0.6"/>
<circle cx="683.1" cy="434.8" r="2.9" fill="#2c3577" stroke="#1b1f4a" stroke-width="0.6"/>
<circle cx="684.2" cy="434.5" r="2.9" fill="#2c3577" stroke="#1b1f4a" stroke-width="0.6"/>
<circle cx="687.1" cy="434.1" r="2.9" fill="#2c3577" stroke="#1b1f4a" stroke-width="0.6"/>
<circle cx="686.4" cy="430.8" r="2.9" fill="#2c3577" stroke="#1b1f4a" stroke-width="0.6"/>
<circle cx="690.9" cy="428.0" r="2.9" fill="#2c3577" stroke="#1b1f4a" stroke-width="0.6"/>
<circle cx="690.5" cy="426.3" r="2.9" fill="#2c3577" stroke="#1b1f4a" stroke-width="0.6"/>
<circle cx="691.6" cy="427.9" r="2.9" fill="#2c3577" stroke="#1b1f4a" stroke-width="0.6"/>
<circle cx="693.7" cy="425.6" r="2.9" fill="#2c3577" stroke="#1b1f4a" stroke-width="0.6"/>
<circle cx="693.5" cy="422.5" r="2.9" fill="#2c3577" stroke="#1b1f4a" stroke-width="0.6"/>
<circle cx="696.6" cy="419.0" r="2.9" fill="#2c3577" stroke="#1b1f4a" stroke-width="0.6"/>
<circle cx="698.8" cy="416.5" r="2.9" fill="#2c3577" stroke="#1b1f4a" stroke-width="0.6"/>
<circle cx="699.5" cy="416.5" r="2.9" fill="#2c3577" stroke="#1b1f4a" stroke-width="0.6"/>
<circle cx="698.4" cy="414.1" r="2.9" fill="#2c3577" stroke="#1b1f4a" stroke-width="0.6"/>
<circle cx="700.3" cy="413.3" r="2.9" fill="#2c3577" stroke="#1b1f4a" stroke-width="0.6"/>
<circle cx="704.0" cy="408.7" r="2.9" fill="#2c3577" stroke="#1b1f4a" stroke-width="0.6"/>
<circle cx="693.4" cy="457.7" r="2.9" fill="#2c3577" stroke="#1b1f4a" stroke-width="0.6"/>
<circle cx="693.9" cy="456.4" r="2.9" fill="#2c3577" stroke="#1b1f4a" stroke-width="0.6"/>
<circle cx="696.1" cy="454.7" r="2.9" fill="#2c3577" stroke="#1b1f4a" stroke-width="0.6"/>
<circle cx="698.5" cy="452.2" r="2.9" fill="#2c3577" stroke="#1b1f4a" stroke-width="0.6"/>
<circle cx="699.8" cy="449.8" r="2.9" fill="#2c3577" stroke="#1b1f4a" stroke-width="0.6"/>
<circle cx="700.3" cy="448.0" r="2.9" fill="#2c3577" stroke="#1b1f4a" stroke-width="0.6"/>
<circle cx="701.1" cy="448.4" r="2.9" fill="#2c3577" stroke="#1b1f4a" stroke-width="0.6"/>
<circle cx="702.7" cy="446.4" r="2.9" fill="#2c3577" stroke="#1b1f4a" stroke-width="0.6"/>
<circle cx="705.5" cy="443.4" r="2.9" fill="#2c3577" stroke="#1b1f4a" stroke-width="0.6"/>
<circle cx="706.7" cy="441.9" r="2.9" fill="#2c3577" stroke="#1b1f4a" stroke-width="0.6"/>
<circle cx="707.7" cy="439.6" r="2.9" fill="#2c3577" stroke="#1b1f4a" stroke-width="0.6"/>
<circle cx="719.7" cy="305.6" r="2.9" fill="#2c3577" stroke="#1b1f4a" stroke-width="0.6"/>
<circle cx="697.0" cy="350.7" r="2.9" fill="#2c3577" stroke="#1b1f4a" stroke-width="0.6"/>
<circle cx="719.3" cy="388.0" r="2.9" fill="#2c3577" stroke="#1b1f4a" stroke-width="0.6"/>
<circle cx="714.7" cy="407.5" r="2.9" fill="#2c3577" stroke="#1b1f4a" stroke-width="0.6"/>
<circle cx="702.3" cy="413.8" r="2.9" fill="#2c3577" stroke="#1b1f4a" stroke-width="0.6"/>
<circle cx="705.2" cy="395.7" r="2.9" fill="#2c3577" stroke="#1b1f4a" stroke-width="0.6"/>
<circle cx="692.8" cy="391.0" r="2.9" fill="#2c3577" stroke="#1b1f4a" stroke-width="0.6"/>
<circle cx="679.5" cy="411.0" r="2.9" fill="#2c3577" stroke="#1b1f4a" stroke-width="0.6"/>
<circle cx="679.0" cy="415.7" r="2.9" fill="#2c3577" stroke="#1b1f4a" stroke-width="0.6"/>
<circle cx="687.0" cy="410.0" r="2.9" fill="#2c3577" stroke="#1b1f4a" stroke-width="0.6"/>
<circle cx="639.1" cy="384.3" r="2.9" fill="#2c3577" stroke="#1b1f4a" stroke-width="0.6"/>
<circle cx="529.4" cy="458.4" r="2.9" fill="#2c3577" stroke="#1b1f4a" stroke-width="0.6"/>
<circle cx="537.0" cy="454.7" r="2.9" fill="#2c3577" stroke="#1b1f4a" stroke-width="0.6"/>
<circle cx="542.2" cy="456.4" r="2.9" fill="#2c3577" stroke="#1b1f4a" stroke-width="0.6"/>
<circle cx="548.1" cy="453.6" r="2.9" fill="#2c3577" stroke="#1b1f4a" stroke-width="0.6"/>
<circle cx="554.1" cy="458.7" r="2.9" fill="#2c3577" stroke="#1b1f4a" stroke-width="0.6"/>
<circle cx="567.7" cy="455.0" r="2.9" fill="#2c3577" stroke="#1b1f4a" stroke-width="0.6"/>
<circle cx="573.7" cy="453.0" r="2.9" fill="#2c3577" stroke="#1b1f4a" stroke-width="0.6"/>
<circle cx="581.4" cy="450.7" r="2.9" fill="#2c3577" stroke="#1b1f4a" stroke-width="0.6"/>
<circle cx="589.9" cy="447.3" r="2.9" fill="#2c3577" stroke="#1b1f4a" stroke-width="0.6"/>
<circle cx="592.4" cy="445.6" r="2.9" fill="#2c3577" stroke="#1b1f4a" stroke-width="0.6"/>
<circle cx="601.0" cy="454.1" r="2.9" fill="#2c3577" stroke="#1b1f4a" stroke-width="0.6"/>
<circle cx="629.0" cy="449.9" r="2.9" fill="#2c3577" stroke="#1b1f4a" stroke-width="0.6"/>
<circle cx="715.9" cy="325.5" r="2.9" fill="#2c3577" stroke="#1b1f4a" stroke-width="0.6"/>
<circle cx="714.2" cy="331.4" r="2.9" fill="#2c3577" stroke="#1b1f4a" stroke-width="0.6"/>
<circle cx="713.7" cy="348.2" r="2.9" fill="#2c3577" stroke="#1b1f4a" stroke-width="0.6"/>
<circle cx="713.3" cy="355.8" r="2.9" fill="#2c3577" stroke="#1b1f4a" stroke-width="0.6"/>
<circle cx="712.5" cy="361.7" r="2.9" fill="#2c3577" stroke="#1b1f4a" stroke-width="0.6"/>
<circle cx="710.8" cy="368.4" r="2.9" fill="#2c3577" stroke="#1b1f4a" stroke-width="0.6"/>
<circle cx="708.3" cy="375.1" r="2.9" fill="#2c3577" stroke="#1b1f4a" stroke-width="0.6"/>
<circle cx="525.0" cy="459.0" r="2.9" fill="#2c3577" stroke="#1b1f4a" stroke-width="0.6"/>
<circle cx="533.0" cy="458.0" r="2.9" fill="#2c3577" stroke="#1b1f4a" stroke-width="0.6"/>
<circle cx="560.0" cy="459.0" r="2.9" fill="#2c3577" stroke="#1b1f4a" stroke-width="0.6"/>
<polyline points="524.0,460.1 525.0,460.1 526.0,460.1 527.0,460.0 528.0,460.0 529.0,460.0 530.0,460.0 531.0,459.9 532.0,459.9 533.0,459.9 534.0,459.9 535.0,459.8 536.0,459.8 537.0,459.8 538.0,459.7 539.0,459.7 540.0,459.7 541.0,459.6 542.0,459.6 543.0,459.5 544.0,459.5 545.0,459.4 546.0,459.4 547.0,459.3 548.0,459.3 549.0,459.2 550.0,459.2 551.0,459.1 552.0,459.0 553.0,459.0 554.0,458.9 555.0,458.8 556.0,458.7 557.0,458.7 558.0,458.6 559.0,458.5 560.0,458.4 561.0,458.3 562.0,458.2 563.0,458.1 564.0,458.0 565.0,457.9 566.0,457.7 567.0,457.6 568.0,457.5 569.0,457.3 570.0,457.2 571.0,457.0 572.0,456.9 573.0,456.7 574.0,456.5 575.0,456.3 576.0,456.2 577.0,455.9 578.0,455.7 579.0,455.5 580.0,455.3 581.0,455.0 582.0,454.8 583.0,454.5 584.0,454.2 585.0,454.0 586.0,453.6 587.0,453.3 588.0,453.0 589.0,452.6 590.0,452.3 591.0,451.9 592.0,451.5 593.0,451.1 594.0,450.6 595.0,450.2 596.0,449.7 597.0,449.2 598.0,448.7 599.0,448.1 600.0,447.6 601.0,447.0 602.0,446.3 603.0,445.7 604.0,445.0 605.0,444.3 606.0,443.5 607.0,442.7 608.0,441.9 609.0,441.0 610.0,440.1 611.0,439.2 612.0,438.2 613.0,437.1 614.0,436.0 615.0,434.9 616.0,433.7 617.0,432.5 618.0,431.2 619.0,429.8 620.0,428.4 621.0,426.9 622.0,425.3 623.0,423.7 624.0,422.0 625.0,420.2 626.0,418.3 627.0,416.3 628.0,414.3 629.0,412.1 630.0,409.9 631.0,407.5 632.0,405.1 633.0,402.5 634.0,399.8 635.0,397.0 636.0,394.0 637.0,390.9 638.0,387.7 639.0,384.3" fill="none" stroke="#0d0d0d" stroke-width="2"/>
<polyline points="556.0,459.7 557.0,459.7 558.0,459.7 559.0,459.6 560.0,459.6 561.0,459.6 562.0,459.5 563.0,459.5 564.0,459.5 565.0,459.4 566.0,459.4 567.0,459.3 568.0,459.3 569.0,459.3 570.0,459.2 571.0,459.2 572.0,459.1 573.0,459.1 574.0,459.0 575.0,458.9 576.0,458.9 577.0,458.8 578.0,458.8 579.0,458.7 580.0,458.6 581.0,458.6 582.0,458.5 583.0,458.4 584.0,458.3 585.0,458.2 586.0,458.2 587.0,458.1 588.0,458.0 589.0,457.9 590.0,457.8 591.0,457.7 592.0,457.6 593.0,457.5 594.0,457.3 595.0,457.2 596.0,457.1 597.0,457.0 598.0,456.8 599.0,456.7 600.0,456.6 601.0,456.4 602.0,456.3 603.0,456.1 604.0,455.9 605.0,455.8 606.0,455.6 607.0,455.4 608.0,455.2 609.0,455.0 610.0,454.8 611.0,454.6 612.0,454.4 613.0,454.1 614.0,453.9 615.0,453.6 616.0,453.4 617.0,453.1 618.0,452.8 619.0,452.5 620.0,452.2 621.0,451.9 622.0,451.6 623.0,451.3 624.0,450.9 625.0,450.6 626.0,450.2 627.0,449.8 628.0,449.4 629.0,449.0 630.0,448.5 631.0,448.1 632.0,447.6 633.0,447.1 634.0,446.6 635.0,446.1 636.0,445.6 637.0,445.0 638.0,444.4 639.0,443.8 640.0,443.2 641.0,442.5 642.0,441.8 643.0,441.1 644.0,440.4 645.0,439.7 646.0,438.9 647.0,438.1 648.0,437.2 649.0,436.3 650.0,435.4 651.0,434.5 652.0,433.5 653.0,432.5 654.0,431.4 655.0,430.3 656.0,429.2 657.0,428.0 658.0,426.8 659.0,425.5 660.0,424.2 661.0,422.8 662.0,421.4 663.0,419.9 664.0,418.4 665.0,416.8 666.0,415.1 667.0,413.4 668.0,411.6 669.0,409.8" fill="none" stroke="#0d0d0d" stroke-width="2"/>
<polyline points="590.0,460.5 591.0,460.5 592.0,460.5 593.0,460.5 594.0,460.5 595.0,460.5 596.0,460.5 597.0,460.5 598.0,460.5 599.0,460.5 600.0,460.5 601.0,460.5 602.0,460.5 603.0,460.5 604.0,460.5 605.0,460.5 606.0,460.5 607.0,460.5 608.0,460.5 609.0,460.5 610.0,460.5 611.0,460.5 612.0,460.5 613.0,460.5 614.0,460.5 615.0,460.5 616.0,460.5 617.0,460.4 618.0,460.4 619.0,460.4 620.0,460.4 621.0,460.4 622.0,460.4 623.0,460.4 624.0,460.4 625.0,460.4 626.0,460.4 627.0,460.4 628.0,460.4 629.0,460.3 630.0,460.3 631.0,460.3 632.0,460.3 633.0,460.3 634.0,460.2 635.0,460.2 636.0,460.2 637.0,460.2 638.0,460.1 639.0,460.1 640.0,460.0 641.0,460.0 642.0,460.0 643.0,459.9 644.0,459.8 645.0,459.8 646.0,459.7 647.0,459.6 648.0,459.5 649.0,459.4 650.0,459.3 651.0,459.2 652.0,459.1 653.0,458.9 654.0,458.8 655.0,458.6 656.0,458.4 657.0,458.2 658.0,458.0 659.0,457.7 660.0,457.5 661.0,457.2 662.0,456.8 663.0,456.5 664.0,456.1 665.0,455.6 666.0,455.1 667.0,454.6 668.0,454.0 669.0,453.4 670.0,452.6 671.0,451.9 672.0,451.0 673.0,450.0 674.0,449.0 675.0,447.8 676.0,446.6 677.0,445.2 678.0,443.7 679.0,442.0 680.0,440.1 681.0,438.1 682.0,435.9 683.0,433.4 684.0,430.7 685.0,427.7 686.0,424.4 687.0,420.8 688.0,416.9 689.0,412.5 690.0,407.7 691.0,402.4 692.0,396.6 693.0,390.2 694.0,383.2 695.0,375.5 696.0,367.0 697.0,357.7 698.0,347.4" fill="none" stroke="#0d0d0d" stroke-width="2"/>
<polyline points="560.0,460.5 561.0,460.5 562.0,460.5 563.0,460.4 564.0,460.4 565.0,460.4 566.0,460.4 567.0,460.4 568.0,460.4 569.0,460.4 570.0,460.4 571.0,460.4 572.0,460.4 573.0,460.4 574.0,460.4 575.0,460.4 576.0,460.4 577.0,460.4 578.0,460.4 579.0,460.4 580.0,460.4 581.0,460.4 582.0,460.4 583.0,460.4 584.0,460.3 585.0,460.3 586.0,460.3 587.0,460.3 588.0,460.3 589.0,460.3 590.0,460.3 591.0,460.3 592.0,460.3 593.0,460.3 594.0,460.2 595.0,460.2 596.0,460.2 597.0,460.2 598.0,460.2 599.0,460.2 600.0,460.2 601.0,460.1 602.0,460.1 603.0,460.1 604.0,460.1 605.0,460.1 606.0,460.0 607.0,460.0 608.0,460.0 609.0,460.0 610.0,459.9 611.0,459.9 612.0,459.9 613.0,459.8 614.0,459.8 615.0,459.8 616.0,459.7 617.0,459.7 618.0,459.6 619.0,459.6 620.0,459.5 621.0,459.5 622.0,459.4 623.0,459.4 624.0,459.3 625.0,459.3 626.0,459.2 627.0,459.1 628.0,459.1 629.0,459.0 630.0,458.9 631.0,458.8 632.0,458.7 633.0,458.6 634.0,458.5 635.0,458.4 636.0,458.3 637.0,458.2 638.0,458.1 639.0,458.0 640.0,457.8 641.0,457.7 642.0,457.5 643.0,457.4 644.0,457.2 645.0,457.0 646.0,456.9 647.0,456.7 648.0,456.5 649.0,456.2 650.0,456.0 651.0,455.8 652.0,455.5 653.0,455.3 654.0,455.0 655.0,454.7 656.0,454.4 657.0,454.1 658.0,453.8 659.0,453.4 660.0,453.0 661.0,452.6 662.0,452.2 663.0,451.8 664.0,451.3 665.0,450.8 666.0,450.3 667.0,449.8 668.0,449.2 669.0,448.6 670.0,448.0 671.0,447.4 672.0,446.7 673.0,445.9 674.0,445.2 675.0,444.4 676.0,443.5 677.0,442.6 678.0,441.7 679.0,440.7 680.0,439.7 681.0,438.6 682.0,437.4 683.0,436.2 684.0,434.9 685.0,433.6 686.0,432.1 687.0,430.7 688.0,429.1 689.0,427.4 690.0,425.7 691.0,423.9 692.0,421.9 693.0,419.9 694.0,417.8 695.0,415.5 696.0,413.2 697.0,410.7 698.0,408.0 699.0,405.3 700.0,402.4 701.0,399.3 702.0,396.1 703.0,392.7 704.0,389.1 705.0,385.4 706.0,381.4 707.0,377.3 708.0,372.9 709.0,368.3 710.0,363.4 711.0,358.3 712.0,352.9 713.0,347.3 714.0,341.3 715.0,335.1 716.0,328.5 717.0,321.5" fill="none" stroke="#0d0d0d" stroke-width="2"/>
<polyline points="572.0,460.5 573.0,460.5 574.0,460.5 575.0,460.5 576.0,460.5 577.0,460.5 578.0,460.5 579.0,460.4 580.0,460.4 581.0,460.4 582.0,460.4 583.0,460.4 584.0,460.4 585.0,460.4 586.0,460.4 587.0,460.4 588.0,460.4 589.0,460.4 590.0,460.4 591.0,460.4 592.0,460.4 593.0,460.4 594.0,460.4 595.0,460.4 596.0,460.4 597.0,460.4 598.0,460.4 599.0,460.3 600.0,460.3 601.0,460.3 602.0,460.3 603.0,460.3 604.0,460.3 605.0,460.3 606.0,460.3 607.0,460.3 608.0,460.2 609.0,460.2 610.0,460.2 611.0,460.2 612.0,460.2 613.0,460.2 614.0,460.2 615.0,460.1 616.0,460.1 617.0,460.1 618.0,460.1 619.0,460.0 620.0,460.0 621.0,460.0 622.0,460.0 623.0,459.9 624.0,459.9 625.0,459.9 626.0,459.8 627.0,459.8 628.0,459.8 629.0,459.7 630.0,459.7 631.0,459.6 632.0,459.6 633.0,459.5 634.0,459.5 635.0,459.4 636.0,459.4 637.0,459.3 638.0,459.2 639.0,459.2 640.0,459.1 641.0,459.0 642.0,458.9 643.0,458.8 644.0,458.7 645.0,458.6 646.0,458.5 647.0,458.4 648.0,458.3 649.0,458.2 650.0,458.1 651.0,457.9 652.0,457.8 653.0,457.6 654.0,457.5 655.0,457.3 656.0,457.1 657.0,456.9 658.0,456.7 659.0,456.5 660.0,456.3 661.0,456.1 662.0,455.8 663.0,455.6 664.0,455.3 665.0,455.0 666.0,454.7 667.0,454.4 668.0,454.0 669.0,453.7 670.0,453.3 671.0,452.9 672.0,452.5 673.0,452.0 674.0,451.6 675.0,451.1 676.0,450.5 677.0,450.0 678.0,449.4 679.0,448.8 680.0,448.1 681.0,447.5 682.0,446.7 683.0,446.0 684.0,445.2 685.0,444.3 686.0,443.4 687.0,442.5 688.0,441.5 689.0,440.4 690.0,439.3 691.0,438.1 692.0,436.9 693.0,435.5 694.0,434.2 695.0,432.7 696.0,431.2 697.0,429.5 698.0,427.8 699.0,426.0 700.0,424.1 701.0,422.0 702.0,419.9 703.0,417.7 704.0,415.3 705.0,412.8 706.0,410.1 707.0,407.3 708.0,404.4 709.0,401.2 710.0,398.0 711.0,394.5 712.0,390.8 713.0,386.9 714.0,382.9 715.0,378.5 716.0,374.0 717.0,369.2 718.0,364.1 719.0,358.8 720.0,353.1 721.0,347.2 722.0,340.9" fill="none" stroke="#0d0d0d" stroke-width="2"/>
<polyline points="560.0,459.4 561.0,459.3 562.0,459.3 563.0,459.3 564.0,459.2 565.0,459.2 566.0,459.2 567.0,459.1 568.0,459.1 569.0,459.1 570.0,459.0 571.0,459.0 572.0,458.9 573.0,458.9 574.0,458.8 575.0,458.8 576.0,458.7 577.0,458.7 578.0,458.6 579.0,458.6 580.0,458.5 581.0,458.5 582.0,458.4 583.0,458.3 584.0,458.3 585.0,458.2 586.0,458.1 587.0,458.1 588.0,458.0 589.0,457.9 590.0,457.9 591.0,457.8 592.0,457.7 593.0,457.6 594.0,457.5 595.0,457.5 596.0,457.4 597.0,457.3 598.0,457.2 599.0,457.1 600.0,457.0 601.0,456.9 602.0,456.8 603.0,456.7 604.0,456.6 605.0,456.5 606.0,456.3 607.0,456.2 608.0,456.1 609.0,456.0 610.0,455.8 611.0,455.7 612.0,455.6 613.0,455.4 614.0,455.3 615.0,455.1 616.0,455.0 617.0,454.8 618.0,454.6 619.0,454.5 620.0,454.3 621.0,454.1 622.0,453.9 623.0,453.7 624.0,453.5 625.0,453.3 626.0,453.1 627.0,452.9 628.0,452.7 629.0,452.5 630.0,452.2 631.0,452.0 632.0,451.7 633.0,451.5 634.0,451.2 635.0,451.0 636.0,450.7 637.0,450.4 638.0,450.1 639.0,449.8 640.0,449.5 641.0,449.2 642.0,448.8 643.0,448.5 644.0,448.2 645.0,447.8 646.0,447.4 647.0,447.1 648.0,446.7 649.0,446.3 650.0,445.9 651.0,445.4 652.0,445.0 653.0,444.5 654.0,444.1 655.0,443.6 656.0,443.1 657.0,442.6 658.0,442.1 659.0,441.6 660.0,441.0 661.0,440.4 662.0,439.9 663.0,439.3 664.0,438.7 665.0,438.0 666.0,437.4 667.0,436.7 668.0,436.0 669.0,435.3 670.0,434.6 671.0,433.8 672.0,433.0 673.0,432.2 674.0,431.4 675.0,430.6 676.0,429.7 677.0,428.8 678.0,427.9 679.0,427.0 680.0,426.0 681.0,425.0 682.0,424.0 683.0,422.9 684.0,421.8 685.0,420.7 686.0,419.5 687.0,418.4 688.0,417.1 689.0,415.9 690.0,414.6 691.0,413.3 692.0,411.9 693.0,410.5 694.0,409.0 695.0,407.5 696.0,406.0 697.0,404.4 698.0,402.8 699.0,401.1 700.0,399.4 701.0,397.6 702.0,395.8 703.0,393.9 704.0,392.0" fill="none" stroke="#0d0d0d" stroke-width="2"/>
<polyline points="560.0,459.8 561.0,459.8 562.0,459.8 563.0,459.8 564.0,459.7 565.0,459.7 566.0,459.7 567.0,459.7 568.0,459.6 569.0,459.6 570.0,459.6 571.0,459.6 572.0,459.5 573.0,459.5 574.0,459.5 575.0,459.4 576.0,459.4 577.0,459.4 578.0,459.3 579.0,459.3 580.0,459.3 581.0,459.2 582.0,459.2 583.0,459.1 584.0,459.1 585.0,459.1 586.0,459.0 587.0,459.0 588.0,458.9 589.0,458.9 590.0,458.8 591.0,458.8 592.0,458.7 593.0,458.7 594.0,458.6 595.0,458.6 596.0,458.5 597.0,458.4 598.0,458.4 599.0,458.3 600.0,458.2 601.0,458.2 602.0,458.1 603.0,458.0 604.0,457.9 605.0,457.9 606.0,457.8 607.0,457.7 608.0,457.6 609.0,457.5 610.0,457.4 611.0,457.3 612.0,457.2 613.0,457.1 614.0,457.0 615.0,456.9 616.0,456.8 617.0,456.7 618.0,456.6 619.0,456.5 620.0,456.4 621.0,456.2 622.0,456.1 623.0,456.0 624.0,455.8 625.0,455.7 626.0,455.5 627.0,455.4 628.0,455.2 629.0,455.1 630.0,454.9 631.0,454.7 632.0,454.5 633.0,454.3 634.0,454.2 635.0,454.0 636.0,453.8 637.0,453.6 638.0,453.3 639.0,453.1 640.0,452.9 641.0,452.7 642.0,452.4 643.0,452.2 644.0,451.9 645.0,451.7 646.0,451.4 647.0,451.1 648.0,450.8 649.0,450.5 650.0,450.2 651.0,449.9 652.0,449.6 653.0,449.2 654.0,448.9 655.0,448.5 656.0,448.2 657.0,447.8 658.0,447.4 659.0,447.0 660.0,446.6 661.0,446.1 662.0,445.7 663.0,445.2 664.0,444.8 665.0,444.3 666.0,443.8 667.0,443.3 668.0,442.7 669.0,442.2 670.0,441.6 671.0,441.0 672.0,440.4 673.0,439.8 674.0,439.2 675.0,438.5 676.0,437.9 677.0,437.2 678.0,436.4 679.0,435.7 680.0,434.9 681.0,434.2 682.0,433.3 683.0,432.5 684.0,431.7 685.0,430.8 686.0,429.8 687.0,428.9 688.0,427.9 689.0,426.9 690.0,425.9 691.0,424.8 692.0,423.7 693.0,422.6 694.0,421.4 695.0,420.2 696.0,419.0" fill="none" stroke="#0d0d0d" stroke-width="2"/>
<polyline points="690.7,459.7 697.0,453.0 703.0,446.0 709.1,438.9" fill="none" stroke="#0d0d0d" stroke-width="2"/>
</svg></body></html>
